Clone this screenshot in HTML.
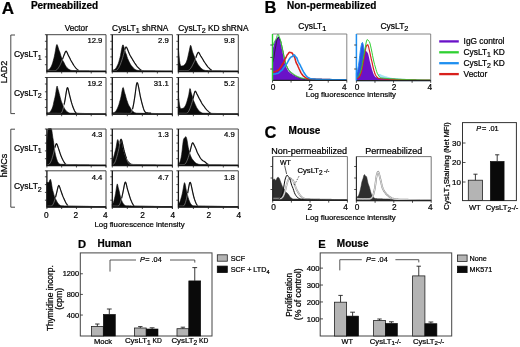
<!DOCTYPE html>
<html lang="en"><head><meta charset="utf-8"><title>CysLT receptor figure</title>
<style>html,body{margin:0;padding:0;background:#fff;overflow:hidden;width:520px;height:347px;}svg{display:block;filter:blur(0.4px);}text{font-family:'Liberation Sans', Arial, Helvetica, sans-serif;stroke:#000;stroke-width:0.22px;}</style>
</head><body>
<svg width="520" height="347" viewBox="0 0 520 347">
<rect x="0" y="0" width="520" height="347" fill="#fff"/>
<text x="1.7" y="13.5" font-size="17" font-weight="bold" text-anchor="start" fill="#000">A</text>
<text x="30.9" y="9.4" font-size="10" font-weight="bold" text-anchor="start" fill="#000">Permeabilized</text>
<text x="76.3" y="31" font-size="8.2" font-weight="normal" text-anchor="middle" fill="#000">Vector</text>
<text x="112.1" y="31" font-size="8.4" font-weight="normal" text-anchor="start" fill="#000">CysLT<tspan font-size="7" dy="2">1</tspan><tspan dy="-2"> shRNA</tspan></text>
<text x="178.2" y="31" font-size="8.4" font-weight="normal" text-anchor="start" fill="#000">CysLT<tspan font-size="7" dy="2">2</tspan><tspan dy="-2"> KD shRNA</tspan></text>
<path d="M15,35 H10.8 V113.6 H15" fill="none" stroke="#333" stroke-width="0.9"/>
<path d="M15,129.2 H10.8 V207.2 H15" fill="none" stroke="#333" stroke-width="0.9"/>
<text transform="translate(6.8 72) rotate(-90)" font-size="9" font-weight="normal" text-anchor="middle" fill="#000">LAD2</text>
<text transform="translate(7 165.4) rotate(-90)" font-size="9" font-weight="normal" text-anchor="middle" fill="#000">hMCs</text>
<text x="13.9" y="56.9" font-size="8.5" font-weight="normal" text-anchor="start" fill="#000">CysLT<tspan font-size="7" dy="2.6">1</tspan></text>
<text x="13.9" y="95.6" font-size="8.5" font-weight="normal" text-anchor="start" fill="#000">CysLT<tspan font-size="7" dy="2.1">2</tspan></text>
<text x="13.9" y="150.6" font-size="8.5" font-weight="normal" text-anchor="start" fill="#000">CysLT<tspan font-size="7" dy="2.6">1</tspan></text>
<text x="13.9" y="189.4" font-size="8.5" font-weight="normal" text-anchor="start" fill="#000">CysLT<tspan font-size="7" dy="2.1">2</tspan></text>
<path d="M46.9,70.56 L47.44,70.56 L47.97,70.57 L48.51,70.57 L49.05,70.58 L49.59,70.59 L50.12,70.59 L50.66,70.6 L51.2,70.61 L51.74,70.61 L52.27,70.62 L52.81,70.62 L53.35,70.62 L53.88,70.62 L54.42,70.63 L54.96,70.61 L55.5,70.53 L56.03,70.33 L56.57,69.99 L57.11,69.5 L57.65,68.89 L58.18,68.17 L58.72,67.37 L59.26,66.51 L59.79,65.57 L60.33,64.49 L60.87,63.27 L61.41,61.98 L61.94,60.66 L62.48,59.27 L63.02,57.83 L63.56,56.41 L64.09,55.04 L64.63,53.67 L65.17,52.34 L65.7,51.36 L66.24,51.2 L66.78,51.91 L67.32,53.04 L67.85,54.24 L68.39,55.39 L68.93,56.48 L69.47,57.52 L70,58.6 L70.54,59.71 L71.08,60.72 L71.61,61.63 L72.15,62.51 L72.69,63.43 L73.23,64.34 L73.76,65.2 L74.3,66.01 L74.84,66.75 L75.38,67.44 L75.91,68.08 L76.45,68.68 L76.99,69.2 L77.52,69.65 L78.06,70.02 L78.6,70.3 L79.14,70.46 L79.67,70.54 L80.21,70.58 L80.75,70.61 L81.29,70.64 L81.82,70.66 L82.36,70.68 L82.9,70.7 L83.43,70.72 L83.97,70.75 L84.51,70.77 L85.05,70.78 L85.58,70.8 L86.12,70.81 L86.66,70.83 L87.2,70.85 L87.73,70.86 L88.27,70.88 L88.81,70.89 L89.34,70.9 L89.88,70.92 L90.42,70.93 L90.96,70.94 L91.49,70.95 L92.03,70.96 L92.57,70.97 L93.11,70.98 L93.64,70.98 L94.18,70.99 L94.72,71 L95.25,71.01 L95.79,71.02 L96.33,71.02 L96.87,71.03 L97.4,71.04 L97.94,71.05 L98.48,71.06 L99.02,71.06 L99.55,71.07 L100.09,71.08 L100.63,71.08 L101.16,71.08 L101.7,71.08 L102.24,71.08 L102.78,71.09 L103.31,71.09 L103.85,71.09 L104.39,71.09 L104.93,71.09 L105.46,71.09 L106,71.09 L106,71.5 L46.9,71.5 Z" fill="#fff" stroke="none"/>
<path d="M46.9,69.98 L47.44,69.99 L47.97,69.95 L48.51,69.83 L49.05,69.55 L49.59,69.04 L50.12,68.35 L50.66,67.48 L51.2,66.47 L51.74,65.32 L52.27,63.98 L52.81,62.27 L53.35,60.29 L53.88,58.37 L54.42,56.11 L54.96,53.35 L55.5,50.29 L56.03,47.1 L56.57,44.87 L57.11,44.54 L57.65,45.8 L58.18,47.53 L58.72,49.3 L59.26,50.85 L59.79,51.96 L60.33,53.66 L60.87,55.79 L61.41,57.34 L61.94,58.58 L62.48,59.9 L63.02,61.06 L63.56,61.84 L64.09,62.77 L64.63,63.99 L65.17,65.08 L65.7,66.02 L66.24,66.78 L66.78,67.38 L67.32,67.91 L67.85,68.41 L68.39,68.93 L68.93,69.34 L69.47,69.61 L70,69.9 L70.54,70.15 L71.08,70.32 L71.61,70.43 L72.15,70.49 L72.69,70.5 L73.23,70.52 L73.76,70.54 L74.3,70.57 L74.84,70.59 L75.38,70.6 L75.91,70.59 L76.45,70.6 L76.99,70.61 L77.52,70.64 L78.06,70.65 L78.6,70.64 L79.14,70.64 L79.67,70.66 L80.21,70.67 L80.75,70.68 L81.29,70.7 L81.82,70.72 L82.36,70.74 L82.9,70.75 L83.43,70.77 L83.97,70.78 L84.51,70.79 L85.05,70.79 L85.58,70.79 L86.12,70.8 L86.66,70.81 L87.2,70.82 L87.73,70.83 L88.27,70.85 L88.81,70.87 L89.34,70.88 L89.88,70.9 L90.42,70.91 L90.96,70.91 L91.49,70.92 L92.03,70.93 L92.57,70.94 L93.11,70.95 L93.64,70.96 L94.18,70.98 L94.72,70.99 L95.25,71 L95.79,71.01 L96.33,71.02 L96.87,71.03 L97.4,71.04 L97.94,71.06 L98.48,71.07 L99.02,71.08 L99.55,71.09 L100.09,71.1 L100.63,71.1 L101.16,71.1 L101.7,71.1 L102.24,71.1 L102.78,71.1 L103.31,71.1 L103.85,71.1 L104.39,71.1 L104.93,71.1 L105.46,71.1 L106,71.1 L106,71.5 L46.9,71.5 Z" fill="#0a0a0a" stroke="#0a0a0a" stroke-width="0.6" stroke-linejoin="round"/>
<path d="M46.9,70.56 L47.44,70.56 L47.97,70.57 L48.51,70.57 L49.05,70.58 L49.59,70.59 L50.12,70.59 L50.66,70.6 L51.2,70.61 L51.74,70.61 L52.27,70.62 L52.81,70.62 L53.35,70.62 L53.88,70.62 L54.42,70.63 L54.96,70.61 L55.5,70.53 L56.03,70.33 L56.57,69.99 L57.11,69.5 L57.65,68.89 L58.18,68.17 L58.72,67.37 L59.26,66.51 L59.79,65.57 L60.33,64.49 L60.87,63.27 L61.41,61.98 L61.94,60.66 L62.48,59.27 L63.02,57.83 L63.56,56.41 L64.09,55.04 L64.63,53.67 L65.17,52.34 L65.7,51.36 L66.24,51.2 L66.78,51.91 L67.32,53.04 L67.85,54.24 L68.39,55.39 L68.93,56.48 L69.47,57.52 L70,58.6 L70.54,59.71 L71.08,60.72 L71.61,61.63 L72.15,62.51 L72.69,63.43 L73.23,64.34 L73.76,65.2 L74.3,66.01 L74.84,66.75 L75.38,67.44 L75.91,68.08 L76.45,68.68 L76.99,69.2 L77.52,69.65 L78.06,70.02 L78.6,70.3 L79.14,70.46 L79.67,70.54 L80.21,70.58 L80.75,70.61 L81.29,70.64 L81.82,70.66 L82.36,70.68 L82.9,70.7 L83.43,70.72 L83.97,70.75 L84.51,70.77 L85.05,70.78 L85.58,70.8 L86.12,70.81 L86.66,70.83 L87.2,70.85 L87.73,70.86 L88.27,70.88 L88.81,70.89 L89.34,70.9 L89.88,70.92 L90.42,70.93 L90.96,70.94 L91.49,70.95 L92.03,70.96 L92.57,70.97 L93.11,70.98 L93.64,70.98 L94.18,70.99 L94.72,71 L95.25,71.01 L95.79,71.02 L96.33,71.02 L96.87,71.03 L97.4,71.04 L97.94,71.05 L98.48,71.06 L99.02,71.06 L99.55,71.07 L100.09,71.08 L100.63,71.08 L101.16,71.08 L101.7,71.08 L102.24,71.08 L102.78,71.09 L103.31,71.09 L103.85,71.09 L104.39,71.09 L104.93,71.09 L105.46,71.09 L106,71.09" fill="none" stroke="#8a8a8a" stroke-width="0.7" stroke-linejoin="round"/>
<path d="M62.48,59.27 L63.02,57.83 L63.56,56.41 L64.09,55.04 L64.63,53.67 L65.17,52.34 L65.7,51.36 L66.24,51.2 L66.78,51.91 L67.32,53.04 L67.85,54.24 L68.39,55.39 L68.93,56.48 L69.47,57.52 L70,58.6 L70.54,59.71 L71.08,60.72 L71.61,61.63 L72.15,62.51 L72.69,63.43 L73.23,64.34 L73.76,65.2 L74.3,66.01 L74.84,66.75 L75.38,67.44 L75.91,68.08 L76.45,68.68 L76.99,69.2 L77.52,69.65 L78.06,70.02 L78.6,70.3" fill="none" stroke="#111" stroke-width="1.15" stroke-linejoin="round"/>
<path d="M44.9,34.7 H106 V73.5" fill="none" stroke="#444" stroke-width="1.0"/>
<path d="M46.9,34.7 V71.5 H106" fill="none" stroke="#111" stroke-width="1.3"/>
<line x1="46.9" y1="71.5" x2="46.9" y2="73.5" stroke="#222" stroke-width="0.8"/>
<line x1="61.67" y1="71.5" x2="61.67" y2="73.5" stroke="#222" stroke-width="0.8"/>
<line x1="76.45" y1="71.5" x2="76.45" y2="73.5" stroke="#222" stroke-width="0.8"/>
<line x1="91.22" y1="71.5" x2="91.22" y2="73.5" stroke="#222" stroke-width="0.8"/>
<line x1="106" y1="71.5" x2="106" y2="73.5" stroke="#222" stroke-width="0.8"/>
<line x1="44.9" y1="64.7" x2="46.9" y2="64.7" stroke="#222" stroke-width="0.8"/>
<line x1="44.9" y1="56.9" x2="46.9" y2="56.9" stroke="#222" stroke-width="0.8"/>
<line x1="44.9" y1="49.1" x2="46.9" y2="49.1" stroke="#222" stroke-width="0.8"/>
<line x1="44.9" y1="41.3" x2="46.9" y2="41.3" stroke="#222" stroke-width="0.8"/>
<text x="102.4" y="43.4" font-size="7.7" font-weight="normal" text-anchor="end" fill="#000">12.9</text>
<path d="M112.3,70.53 L112.85,70.54 L113.39,70.56 L113.94,70.57 L114.49,70.58 L115.03,70.58 L115.58,70.56 L116.12,70.48 L116.67,70.26 L117.22,69.85 L117.76,69.22 L118.31,68.42 L118.86,67.5 L119.4,66.47 L119.95,65.31 L120.5,64 L121.04,62.53 L121.59,60.98 L122.13,59.35 L122.68,57.6 L123.23,55.67 L123.77,53.64 L124.32,51.59 L124.87,49.55 L125.41,47.81 L125.96,46.93 L126.51,47.16 L127.05,48.16 L127.6,49.47 L128.14,50.85 L128.69,52.22 L129.24,53.52 L129.78,54.71 L130.33,55.78 L130.88,56.75 L131.42,57.66 L131.97,58.56 L132.52,59.46 L133.06,60.35 L133.61,61.26 L134.15,62.17 L134.7,63.02 L135.25,63.8 L135.79,64.59 L136.34,65.38 L136.89,66.12 L137.43,66.79 L137.98,67.39 L138.53,67.95 L139.07,68.48 L139.62,68.98 L140.16,69.43 L140.71,69.83 L141.26,70.18 L141.8,70.45 L142.35,70.62 L142.9,70.71 L143.44,70.74 L143.99,70.76 L144.54,70.77 L145.08,70.78 L145.63,70.79 L146.17,70.8 L146.72,70.81 L147.27,70.83 L147.81,70.84 L148.36,70.85 L148.91,70.86 L149.45,70.87 L150,70.88 L150.55,70.9 L151.09,70.91 L151.64,70.91 L152.18,70.92 L152.73,70.93 L153.28,70.93 L153.82,70.94 L154.37,70.95 L154.92,70.96 L155.46,70.96 L156.01,70.97 L156.56,70.98 L157.1,70.98 L157.65,70.99 L158.19,71 L158.74,71.01 L159.29,71.01 L159.83,71.02 L160.38,71.02 L160.93,71.03 L161.47,71.04 L162.02,71.05 L162.57,71.05 L163.11,71.06 L163.66,71.06 L164.2,71.07 L164.75,71.08 L165.3,71.08 L165.84,71.09 L166.39,71.09 L166.94,71.09 L167.48,71.1 L168.03,71.1 L168.58,71.1 L169.12,71.1 L169.67,71.1 L170.21,71.1 L170.76,71.1 L171.31,71.1 L171.85,71.1 L172.4,71.1 L172.4,71.5 L112.3,71.5 Z" fill="#fff" stroke="none"/>
<path d="M112.3,69.98 L112.85,70.01 L113.39,69.99 L113.94,69.81 L114.49,69.5 L115.03,69.11 L115.58,68.64 L116.12,67.9 L116.67,66.89 L117.22,65.79 L117.76,64.64 L118.31,63.45 L118.86,61.8 L119.4,59.67 L119.95,57.75 L120.5,55.45 L121.04,52.36 L121.59,49.34 L122.13,46.81 L122.68,44.98 L123.23,44.94 L123.77,46.61 L124.32,48.26 L124.87,50.12 L125.41,52.13 L125.96,53.42 L126.51,54.81 L127.05,56.76 L127.6,58.38 L128.14,59.52 L128.69,60.8 L129.24,62.06 L129.78,63.12 L130.33,64.07 L130.88,64.89 L131.42,65.64 L131.97,66.31 L132.52,66.94 L133.06,67.59 L133.61,68.19 L134.15,68.69 L134.7,69.13 L135.25,69.5 L135.79,69.8 L136.34,70.03 L136.89,70.2 L137.43,70.34 L137.98,70.46 L138.53,70.51 L139.07,70.53 L139.62,70.55 L140.16,70.56 L140.71,70.57 L141.26,70.58 L141.8,70.59 L142.35,70.61 L142.9,70.62 L143.44,70.62 L143.99,70.63 L144.54,70.65 L145.08,70.66 L145.63,70.66 L146.17,70.68 L146.72,70.7 L147.27,70.72 L147.81,70.74 L148.36,70.75 L148.91,70.75 L149.45,70.76 L150,70.77 L150.55,70.79 L151.09,70.8 L151.64,70.79 L152.18,70.8 L152.73,70.82 L153.28,70.84 L153.82,70.85 L154.37,70.86 L154.92,70.87 L155.46,70.88 L156.01,70.89 L156.56,70.9 L157.1,70.9 L157.65,70.91 L158.19,70.93 L158.74,70.94 L159.29,70.95 L159.83,70.97 L160.38,70.98 L160.93,70.99 L161.47,71 L162.02,71.01 L162.57,71.02 L163.11,71.03 L163.66,71.05 L164.2,71.06 L164.75,71.07 L165.3,71.08 L165.84,71.09 L166.39,71.1 L166.94,71.1 L167.48,71.1 L168.03,71.1 L168.58,71.1 L169.12,71.1 L169.67,71.1 L170.21,71.1 L170.76,71.1 L171.31,71.1 L171.85,71.1 L172.4,71.1 L172.4,71.5 L112.3,71.5 Z" fill="#0a0a0a" stroke="#0a0a0a" stroke-width="0.6" stroke-linejoin="round"/>
<path d="M112.3,70.53 L112.85,70.54 L113.39,70.56 L113.94,70.57 L114.49,70.58 L115.03,70.58 L115.58,70.56 L116.12,70.48 L116.67,70.26 L117.22,69.85 L117.76,69.22 L118.31,68.42 L118.86,67.5 L119.4,66.47 L119.95,65.31 L120.5,64 L121.04,62.53 L121.59,60.98 L122.13,59.35 L122.68,57.6 L123.23,55.67 L123.77,53.64 L124.32,51.59 L124.87,49.55 L125.41,47.81 L125.96,46.93 L126.51,47.16 L127.05,48.16 L127.6,49.47 L128.14,50.85 L128.69,52.22 L129.24,53.52 L129.78,54.71 L130.33,55.78 L130.88,56.75 L131.42,57.66 L131.97,58.56 L132.52,59.46 L133.06,60.35 L133.61,61.26 L134.15,62.17 L134.7,63.02 L135.25,63.8 L135.79,64.59 L136.34,65.38 L136.89,66.12 L137.43,66.79 L137.98,67.39 L138.53,67.95 L139.07,68.48 L139.62,68.98 L140.16,69.43 L140.71,69.83 L141.26,70.18 L141.8,70.45 L142.35,70.62 L142.9,70.71 L143.44,70.74 L143.99,70.76 L144.54,70.77 L145.08,70.78 L145.63,70.79 L146.17,70.8 L146.72,70.81 L147.27,70.83 L147.81,70.84 L148.36,70.85 L148.91,70.86 L149.45,70.87 L150,70.88 L150.55,70.9 L151.09,70.91 L151.64,70.91 L152.18,70.92 L152.73,70.93 L153.28,70.93 L153.82,70.94 L154.37,70.95 L154.92,70.96 L155.46,70.96 L156.01,70.97 L156.56,70.98 L157.1,70.98 L157.65,70.99 L158.19,71 L158.74,71.01 L159.29,71.01 L159.83,71.02 L160.38,71.02 L160.93,71.03 L161.47,71.04 L162.02,71.05 L162.57,71.05 L163.11,71.06 L163.66,71.06 L164.2,71.07 L164.75,71.08 L165.3,71.08 L165.84,71.09 L166.39,71.09 L166.94,71.09 L167.48,71.1 L168.03,71.1 L168.58,71.1 L169.12,71.1 L169.67,71.1 L170.21,71.1 L170.76,71.1 L171.31,71.1 L171.85,71.1 L172.4,71.1" fill="none" stroke="#8a8a8a" stroke-width="0.7" stroke-linejoin="round"/>
<path d="M124.87,49.55 L125.41,47.81 L125.96,46.93 L126.51,47.16 L127.05,48.16 L127.6,49.47 L128.14,50.85 L128.69,52.22 L129.24,53.52 L129.78,54.71 L130.33,55.78 L130.88,56.75 L131.42,57.66 L131.97,58.56 L132.52,59.46 L133.06,60.35 L133.61,61.26 L134.15,62.17 L134.7,63.02 L135.25,63.8 L135.79,64.59 L136.34,65.38 L136.89,66.12 L137.43,66.79 L137.98,67.39 L138.53,67.95 L139.07,68.48 L139.62,68.98 L140.16,69.43 L140.71,69.83 L141.26,70.18" fill="none" stroke="#111" stroke-width="1.15" stroke-linejoin="round"/>
<path d="M110.3,34.7 H172.4 V73.5" fill="none" stroke="#444" stroke-width="1.0"/>
<path d="M112.3,34.7 V71.5 H172.4" fill="none" stroke="#111" stroke-width="1.3"/>
<line x1="112.3" y1="71.5" x2="112.3" y2="73.5" stroke="#222" stroke-width="0.8"/>
<line x1="127.33" y1="71.5" x2="127.33" y2="73.5" stroke="#222" stroke-width="0.8"/>
<line x1="142.35" y1="71.5" x2="142.35" y2="73.5" stroke="#222" stroke-width="0.8"/>
<line x1="157.38" y1="71.5" x2="157.38" y2="73.5" stroke="#222" stroke-width="0.8"/>
<line x1="172.4" y1="71.5" x2="172.4" y2="73.5" stroke="#222" stroke-width="0.8"/>
<line x1="110.3" y1="64.7" x2="112.3" y2="64.7" stroke="#222" stroke-width="0.8"/>
<line x1="110.3" y1="56.9" x2="112.3" y2="56.9" stroke="#222" stroke-width="0.8"/>
<line x1="110.3" y1="49.1" x2="112.3" y2="49.1" stroke="#222" stroke-width="0.8"/>
<line x1="110.3" y1="41.3" x2="112.3" y2="41.3" stroke="#222" stroke-width="0.8"/>
<text x="168.8" y="43.4" font-size="7.7" font-weight="normal" text-anchor="end" fill="#000">2.9</text>
<path d="M178.4,70.54 L178.94,70.55 L179.49,70.56 L180.03,70.56 L180.58,70.57 L181.12,70.57 L181.67,70.57 L182.21,70.57 L182.76,70.58 L183.3,70.59 L183.85,70.6 L184.39,70.61 L184.93,70.61 L185.48,70.61 L186.02,70.61 L186.57,70.62 L187.11,70.61 L187.66,70.57 L188.2,70.45 L188.75,70.2 L189.29,69.82 L189.84,69.31 L190.38,68.69 L190.92,67.94 L191.47,67.08 L192.01,66.13 L192.56,65.11 L193.1,64.03 L193.65,62.91 L194.19,61.77 L194.74,60.6 L195.28,59.28 L195.83,57.79 L196.37,56.26 L196.91,54.81 L197.46,53.5 L198,52.6 L198.55,52.39 L199.09,52.9 L199.64,53.9 L200.18,55 L200.73,55.97 L201.27,56.83 L201.82,57.69 L202.36,58.54 L202.9,59.43 L203.45,60.42 L203.99,61.39 L204.54,62.25 L205.08,63.02 L205.63,63.78 L206.17,64.57 L206.72,65.38 L207.26,66.15 L207.81,66.83 L208.35,67.41 L208.89,67.95 L209.44,68.48 L209.98,68.99 L210.53,69.45 L211.07,69.86 L211.62,70.18 L212.16,70.42 L212.71,70.58 L213.25,70.67 L213.8,70.71 L214.34,70.73 L214.88,70.75 L215.43,70.77 L215.97,70.78 L216.52,70.8 L217.06,70.81 L217.61,70.82 L218.15,70.84 L218.7,70.86 L219.24,70.87 L219.79,70.88 L220.33,70.89 L220.87,70.9 L221.42,70.92 L221.96,70.93 L222.51,70.94 L223.05,70.95 L223.6,70.96 L224.14,70.97 L224.69,70.97 L225.23,70.98 L225.78,70.99 L226.32,71 L226.86,71.01 L227.41,71.02 L227.95,71.02 L228.5,71.03 L229.04,71.04 L229.59,71.05 L230.13,71.06 L230.68,71.06 L231.22,71.07 L231.77,71.08 L232.31,71.08 L232.85,71.08 L233.4,71.09 L233.94,71.09 L234.49,71.09 L235.03,71.09 L235.58,71.09 L236.12,71.09 L236.67,71.09 L237.21,71.09 L237.76,71.09 L238.3,71.09 L238.3,71.5 L178.4,71.5 Z" fill="#fff" stroke="none"/>
<path d="M178.4,49.7 L178.94,54.86 L179.49,60.26 L180.03,63.65 L180.58,65.51 L181.12,66.11 L181.67,65.96 L182.21,65.81 L182.76,65.88 L183.3,65.74 L183.85,65.36 L184.39,64.89 L184.93,64.27 L185.48,63.61 L186.02,62.65 L186.57,61.37 L187.11,59.97 L187.66,57.97 L188.2,55.43 L188.75,52.97 L189.29,50.62 L189.84,47.86 L190.38,45.46 L190.92,45.52 L191.47,47.57 L192.01,49.89 L192.56,51.94 L193.1,53.36 L193.65,54.69 L194.19,56.08 L194.74,57.56 L195.28,59.24 L195.83,60.45 L196.37,61.33 L196.91,62.46 L197.46,63.51 L198,64.39 L198.55,65.19 L199.09,65.8 L199.64,66.47 L200.18,67.23 L200.73,67.84 L201.27,68.36 L201.82,68.82 L202.36,69.22 L202.9,69.59 L203.45,69.88 L203.99,70.08 L204.54,70.24 L205.08,70.38 L205.63,70.49 L206.17,70.53 L206.72,70.55 L207.26,70.59 L207.81,70.61 L208.35,70.63 L208.89,70.64 L209.44,70.65 L209.98,70.66 L210.53,70.67 L211.07,70.67 L211.62,70.67 L212.16,70.67 L212.71,70.69 L213.25,70.71 L213.8,70.72 L214.34,70.73 L214.88,70.75 L215.43,70.76 L215.97,70.78 L216.52,70.78 L217.06,70.78 L217.61,70.8 L218.15,70.81 L218.7,70.82 L219.24,70.83 L219.79,70.85 L220.33,70.86 L220.87,70.87 L221.42,70.88 L221.96,70.89 L222.51,70.89 L223.05,70.9 L223.6,70.92 L224.14,70.94 L224.69,70.95 L225.23,70.95 L225.78,70.96 L226.32,70.98 L226.86,70.99 L227.41,71 L227.95,71.01 L228.5,71.02 L229.04,71.03 L229.59,71.04 L230.13,71.05 L230.68,71.07 L231.22,71.08 L231.77,71.09 L232.31,71.1 L232.85,71.1 L233.4,71.1 L233.94,71.1 L234.49,71.1 L235.03,71.1 L235.58,71.1 L236.12,71.1 L236.67,71.1 L237.21,71.1 L237.76,71.1 L238.3,71.1 L238.3,71.5 L178.4,71.5 Z" fill="#0a0a0a" stroke="#0a0a0a" stroke-width="0.6" stroke-linejoin="round"/>
<path d="M178.4,70.54 L178.94,70.55 L179.49,70.56 L180.03,70.56 L180.58,70.57 L181.12,70.57 L181.67,70.57 L182.21,70.57 L182.76,70.58 L183.3,70.59 L183.85,70.6 L184.39,70.61 L184.93,70.61 L185.48,70.61 L186.02,70.61 L186.57,70.62 L187.11,70.61 L187.66,70.57 L188.2,70.45 L188.75,70.2 L189.29,69.82 L189.84,69.31 L190.38,68.69 L190.92,67.94 L191.47,67.08 L192.01,66.13 L192.56,65.11 L193.1,64.03 L193.65,62.91 L194.19,61.77 L194.74,60.6 L195.28,59.28 L195.83,57.79 L196.37,56.26 L196.91,54.81 L197.46,53.5 L198,52.6 L198.55,52.39 L199.09,52.9 L199.64,53.9 L200.18,55 L200.73,55.97 L201.27,56.83 L201.82,57.69 L202.36,58.54 L202.9,59.43 L203.45,60.42 L203.99,61.39 L204.54,62.25 L205.08,63.02 L205.63,63.78 L206.17,64.57 L206.72,65.38 L207.26,66.15 L207.81,66.83 L208.35,67.41 L208.89,67.95 L209.44,68.48 L209.98,68.99 L210.53,69.45 L211.07,69.86 L211.62,70.18 L212.16,70.42 L212.71,70.58 L213.25,70.67 L213.8,70.71 L214.34,70.73 L214.88,70.75 L215.43,70.77 L215.97,70.78 L216.52,70.8 L217.06,70.81 L217.61,70.82 L218.15,70.84 L218.7,70.86 L219.24,70.87 L219.79,70.88 L220.33,70.89 L220.87,70.9 L221.42,70.92 L221.96,70.93 L222.51,70.94 L223.05,70.95 L223.6,70.96 L224.14,70.97 L224.69,70.97 L225.23,70.98 L225.78,70.99 L226.32,71 L226.86,71.01 L227.41,71.02 L227.95,71.02 L228.5,71.03 L229.04,71.04 L229.59,71.05 L230.13,71.06 L230.68,71.06 L231.22,71.07 L231.77,71.08 L232.31,71.08 L232.85,71.08 L233.4,71.09 L233.94,71.09 L234.49,71.09 L235.03,71.09 L235.58,71.09 L236.12,71.09 L236.67,71.09 L237.21,71.09 L237.76,71.09 L238.3,71.09" fill="none" stroke="#8a8a8a" stroke-width="0.7" stroke-linejoin="round"/>
<path d="M195.83,57.79 L196.37,56.26 L196.91,54.81 L197.46,53.5 L198,52.6 L198.55,52.39 L199.09,52.9 L199.64,53.9 L200.18,55 L200.73,55.97 L201.27,56.83 L201.82,57.69 L202.36,58.54 L202.9,59.43 L203.45,60.42 L203.99,61.39 L204.54,62.25 L205.08,63.02 L205.63,63.78 L206.17,64.57 L206.72,65.38 L207.26,66.15 L207.81,66.83 L208.35,67.41 L208.89,67.95 L209.44,68.48 L209.98,68.99 L210.53,69.45 L211.07,69.86 L211.62,70.18" fill="none" stroke="#111" stroke-width="1.15" stroke-linejoin="round"/>
<path d="M176.4,34.7 H238.3 V73.5" fill="none" stroke="#444" stroke-width="1.0"/>
<path d="M178.4,34.7 V71.5 H238.3" fill="none" stroke="#111" stroke-width="1.3"/>
<line x1="178.4" y1="71.5" x2="178.4" y2="73.5" stroke="#222" stroke-width="0.8"/>
<line x1="193.38" y1="71.5" x2="193.38" y2="73.5" stroke="#222" stroke-width="0.8"/>
<line x1="208.35" y1="71.5" x2="208.35" y2="73.5" stroke="#222" stroke-width="0.8"/>
<line x1="223.32" y1="71.5" x2="223.32" y2="73.5" stroke="#222" stroke-width="0.8"/>
<line x1="238.3" y1="71.5" x2="238.3" y2="73.5" stroke="#222" stroke-width="0.8"/>
<line x1="176.4" y1="64.7" x2="178.4" y2="64.7" stroke="#222" stroke-width="0.8"/>
<line x1="176.4" y1="56.9" x2="178.4" y2="56.9" stroke="#222" stroke-width="0.8"/>
<line x1="176.4" y1="49.1" x2="178.4" y2="49.1" stroke="#222" stroke-width="0.8"/>
<line x1="176.4" y1="41.3" x2="178.4" y2="41.3" stroke="#222" stroke-width="0.8"/>
<text x="234.7" y="43.4" font-size="7.7" font-weight="normal" text-anchor="end" fill="#000">9.8</text>
<path d="M46.9,113.25 L47.44,113.26 L47.97,113.27 L48.51,113.27 L49.05,113.27 L49.59,113.28 L50.12,113.29 L50.66,113.3 L51.2,113.3 L51.74,113.3 L52.27,113.31 L52.81,113.32 L53.35,113.32 L53.88,113.33 L54.42,113.33 L54.96,113.33 L55.5,113.33 L56.03,113.33 L56.57,113.34 L57.11,113.35 L57.65,113.36 L58.18,113.37 L58.72,113.37 L59.26,113.38 L59.79,113.38 L60.33,113.37 L60.87,113.25 L61.41,112.87 L61.94,112.07 L62.48,110.77 L63.02,109.03 L63.56,107 L64.09,104.73 L64.63,102.13 L65.17,99.11 L65.7,95.76 L66.24,92.31 L66.78,89.28 L67.32,87.61 L67.85,87.99 L68.39,89.93 L68.93,92.32 L69.47,94.58 L70,96.77 L70.54,98.95 L71.08,101.04 L71.61,102.94 L72.15,104.64 L72.69,106.21 L73.23,107.69 L73.76,109.09 L74.3,110.35 L74.84,111.41 L75.38,112.2 L75.91,112.72 L76.45,112.99 L76.99,113.11 L77.52,113.17 L78.06,113.22 L78.6,113.26 L79.14,113.3 L79.67,113.34 L80.21,113.37 L80.75,113.39 L81.29,113.41 L81.82,113.43 L82.36,113.45 L82.9,113.47 L83.43,113.49 L83.97,113.52 L84.51,113.53 L85.05,113.55 L85.58,113.56 L86.12,113.58 L86.66,113.59 L87.2,113.61 L87.73,113.62 L88.27,113.63 L88.81,113.64 L89.34,113.65 L89.88,113.66 L90.42,113.67 L90.96,113.68 L91.49,113.68 L92.03,113.69 L92.57,113.7 L93.11,113.71 L93.64,113.71 L94.18,113.72 L94.72,113.73 L95.25,113.74 L95.79,113.74 L96.33,113.75 L96.87,113.76 L97.4,113.76 L97.94,113.77 L98.48,113.78 L99.02,113.78 L99.55,113.79 L100.09,113.79 L100.63,113.79 L101.16,113.8 L101.7,113.8 L102.24,113.8 L102.78,113.8 L103.31,113.8 L103.85,113.8 L104.39,113.8 L104.93,113.8 L105.46,113.8 L106,113.8 L106,114.2 L46.9,114.2 Z" fill="#fff" stroke="none"/>
<path d="M46.9,112.7 L47.44,112.71 L47.97,112.72 L48.51,112.71 L49.05,112.63 L49.59,112.36 L50.12,111.85 L50.66,111.15 L51.2,110.26 L51.74,109.24 L52.27,108.11 L52.81,106.56 L53.35,104.41 L53.88,101.87 L54.42,99.47 L54.96,97.3 L55.5,94.62 L56.03,91.16 L56.57,87.48 L57.11,86.02 L57.65,87.7 L58.18,89.74 L58.72,91.54 L59.26,93.63 L59.79,95.71 L60.33,97.88 L60.87,99.91 L61.41,101.59 L61.94,102.89 L62.48,104.16 L63.02,105.63 L63.56,106.77 L64.09,107.64 L64.63,108.66 L65.17,109.62 L65.7,110.32 L66.24,110.88 L66.78,111.39 L67.32,111.81 L67.85,112.19 L68.39,112.54 L68.93,112.84 L69.47,113.04 L70,113.14 L70.54,113.18 L71.08,113.19 L71.61,113.21 L72.15,113.23 L72.69,113.24 L73.23,113.24 L73.76,113.24 L74.3,113.25 L74.84,113.26 L75.38,113.28 L75.91,113.3 L76.45,113.31 L76.99,113.32 L77.52,113.34 L78.06,113.34 L78.6,113.35 L79.14,113.37 L79.67,113.39 L80.21,113.4 L80.75,113.41 L81.29,113.41 L81.82,113.42 L82.36,113.44 L82.9,113.44 L83.43,113.45 L83.97,113.46 L84.51,113.48 L85.05,113.48 L85.58,113.49 L86.12,113.5 L86.66,113.52 L87.2,113.53 L87.73,113.54 L88.27,113.54 L88.81,113.56 L89.34,113.58 L89.88,113.6 L90.42,113.61 L90.96,113.61 L91.49,113.62 L92.03,113.63 L92.57,113.64 L93.11,113.65 L93.64,113.66 L94.18,113.68 L94.72,113.69 L95.25,113.7 L95.79,113.71 L96.33,113.72 L96.87,113.73 L97.4,113.74 L97.94,113.76 L98.48,113.77 L99.02,113.78 L99.55,113.79 L100.09,113.8 L100.63,113.8 L101.16,113.8 L101.7,113.8 L102.24,113.8 L102.78,113.8 L103.31,113.8 L103.85,113.8 L104.39,113.8 L104.93,113.8 L105.46,113.8 L106,113.8 L106,114.2 L46.9,114.2 Z" fill="#0a0a0a" stroke="#0a0a0a" stroke-width="0.6" stroke-linejoin="round"/>
<path d="M46.9,113.25 L47.44,113.26 L47.97,113.27 L48.51,113.27 L49.05,113.27 L49.59,113.28 L50.12,113.29 L50.66,113.3 L51.2,113.3 L51.74,113.3 L52.27,113.31 L52.81,113.32 L53.35,113.32 L53.88,113.33 L54.42,113.33 L54.96,113.33 L55.5,113.33 L56.03,113.33 L56.57,113.34 L57.11,113.35 L57.65,113.36 L58.18,113.37 L58.72,113.37 L59.26,113.38 L59.79,113.38 L60.33,113.37 L60.87,113.25 L61.41,112.87 L61.94,112.07 L62.48,110.77 L63.02,109.03 L63.56,107 L64.09,104.73 L64.63,102.13 L65.17,99.11 L65.7,95.76 L66.24,92.31 L66.78,89.28 L67.32,87.61 L67.85,87.99 L68.39,89.93 L68.93,92.32 L69.47,94.58 L70,96.77 L70.54,98.95 L71.08,101.04 L71.61,102.94 L72.15,104.64 L72.69,106.21 L73.23,107.69 L73.76,109.09 L74.3,110.35 L74.84,111.41 L75.38,112.2 L75.91,112.72 L76.45,112.99 L76.99,113.11 L77.52,113.17 L78.06,113.22 L78.6,113.26 L79.14,113.3 L79.67,113.34 L80.21,113.37 L80.75,113.39 L81.29,113.41 L81.82,113.43 L82.36,113.45 L82.9,113.47 L83.43,113.49 L83.97,113.52 L84.51,113.53 L85.05,113.55 L85.58,113.56 L86.12,113.58 L86.66,113.59 L87.2,113.61 L87.73,113.62 L88.27,113.63 L88.81,113.64 L89.34,113.65 L89.88,113.66 L90.42,113.67 L90.96,113.68 L91.49,113.68 L92.03,113.69 L92.57,113.7 L93.11,113.71 L93.64,113.71 L94.18,113.72 L94.72,113.73 L95.25,113.74 L95.79,113.74 L96.33,113.75 L96.87,113.76 L97.4,113.76 L97.94,113.77 L98.48,113.78 L99.02,113.78 L99.55,113.79 L100.09,113.79 L100.63,113.79 L101.16,113.8 L101.7,113.8 L102.24,113.8 L102.78,113.8 L103.31,113.8 L103.85,113.8 L104.39,113.8 L104.93,113.8 L105.46,113.8 L106,113.8" fill="none" stroke="#8a8a8a" stroke-width="0.7" stroke-linejoin="round"/>
<path d="M64.09,104.73 L64.63,102.13 L65.17,99.11 L65.7,95.76 L66.24,92.31 L66.78,89.28 L67.32,87.61 L67.85,87.99 L68.39,89.93 L68.93,92.32 L69.47,94.58 L70,96.77 L70.54,98.95 L71.08,101.04 L71.61,102.94 L72.15,104.64 L72.69,106.21 L73.23,107.69 L73.76,109.09 L74.3,110.35 L74.84,111.41 L75.38,112.2 L75.91,112.72 L76.45,112.99" fill="none" stroke="#111" stroke-width="1.15" stroke-linejoin="round"/>
<path d="M44.9,77.5 H106 V116.2" fill="none" stroke="#444" stroke-width="1.0"/>
<path d="M46.9,77.5 V114.2 H106" fill="none" stroke="#111" stroke-width="1.3"/>
<line x1="46.9" y1="114.2" x2="46.9" y2="116.2" stroke="#222" stroke-width="0.8"/>
<line x1="61.67" y1="114.2" x2="61.67" y2="116.2" stroke="#222" stroke-width="0.8"/>
<line x1="76.45" y1="114.2" x2="76.45" y2="116.2" stroke="#222" stroke-width="0.8"/>
<line x1="91.22" y1="114.2" x2="91.22" y2="116.2" stroke="#222" stroke-width="0.8"/>
<line x1="106" y1="114.2" x2="106" y2="116.2" stroke="#222" stroke-width="0.8"/>
<line x1="44.9" y1="107.4" x2="46.9" y2="107.4" stroke="#222" stroke-width="0.8"/>
<line x1="44.9" y1="99.6" x2="46.9" y2="99.6" stroke="#222" stroke-width="0.8"/>
<line x1="44.9" y1="91.8" x2="46.9" y2="91.8" stroke="#222" stroke-width="0.8"/>
<line x1="44.9" y1="84" x2="46.9" y2="84" stroke="#222" stroke-width="0.8"/>
<text x="102.4" y="86.2" font-size="7.7" font-weight="normal" text-anchor="end" fill="#000">19.2</text>
<path d="M112.3,113.27 L112.85,113.27 L113.39,113.27 L113.94,113.27 L114.49,113.28 L115.03,113.29 L115.58,113.29 L116.12,113.29 L116.67,113.3 L117.22,113.3 L117.76,113.31 L118.31,113.31 L118.86,113.31 L119.4,113.32 L119.95,113.33 L120.5,113.33 L121.04,113.33 L121.59,113.34 L122.13,113.35 L122.68,113.36 L123.23,113.37 L123.77,113.37 L124.32,113.38 L124.87,113.38 L125.41,113.38 L125.96,113.38 L126.51,113.39 L127.05,113.4 L127.6,113.41 L128.14,113.42 L128.69,113.42 L129.24,113.42 L129.78,113.42 L130.33,113.34 L130.88,113.04 L131.42,112.31 L131.97,111.02 L132.52,109.2 L133.06,106.87 L133.61,104.04 L134.15,100.8 L134.7,97.3 L135.25,93.49 L135.79,89.25 L136.34,85.21 L136.89,82.77 L137.43,82.73 L137.98,84.39 L138.53,86.76 L139.07,89.54 L139.62,92.61 L140.16,95.52 L140.71,98.05 L141.26,100.35 L141.8,102.56 L142.35,104.67 L142.9,106.64 L143.44,108.43 L143.99,109.96 L144.54,111.18 L145.08,112 L145.63,112.44 L146.17,112.64 L146.72,112.76 L147.27,112.85 L147.81,112.92 L148.36,112.98 L148.91,113.04 L149.45,113.1 L150,113.15 L150.55,113.19 L151.09,113.23 L151.64,113.28 L152.18,113.32 L152.73,113.35 L153.28,113.38 L153.82,113.41 L154.37,113.44 L154.92,113.47 L155.46,113.49 L156.01,113.51 L156.56,113.54 L157.1,113.56 L157.65,113.57 L158.19,113.59 L158.74,113.61 L159.29,113.62 L159.83,113.64 L160.38,113.65 L160.93,113.67 L161.47,113.68 L162.02,113.69 L162.57,113.7 L163.11,113.71 L163.66,113.72 L164.2,113.73 L164.75,113.74 L165.3,113.75 L165.84,113.76 L166.39,113.77 L166.94,113.77 L167.48,113.77 L168.03,113.78 L168.58,113.78 L169.12,113.78 L169.67,113.78 L170.21,113.78 L170.76,113.78 L171.31,113.79 L171.85,113.79 L172.4,113.79 L172.4,114.2 L112.3,114.2 Z" fill="#fff" stroke="none"/>
<path d="M112.3,112.7 L112.85,112.69 L113.39,112.67 L113.94,112.53 L114.49,112.27 L115.03,111.91 L115.58,111.44 L116.12,110.77 L116.67,109.87 L117.22,108.79 L117.76,107.46 L118.31,106.14 L118.86,104.71 L119.4,102.64 L119.95,100.66 L120.5,98.96 L121.04,96.39 L121.59,93.51 L122.13,90.6 L122.68,87.93 L123.23,87.44 L123.77,89.12 L124.32,91.6 L124.87,93.43 L125.41,95.05 L125.96,97.37 L126.51,99.29 L127.05,100.72 L127.6,102.32 L128.14,103.89 L128.69,105.14 L129.24,106.09 L129.78,106.9 L130.33,107.81 L130.88,108.8 L131.42,109.7 L131.97,110.43 L132.52,111.06 L133.06,111.58 L133.61,111.99 L134.15,112.36 L134.7,112.64 L135.25,112.87 L135.79,113.03 L136.34,113.13 L136.89,113.19 L137.43,113.2 L137.98,113.21 L138.53,113.23 L139.07,113.24 L139.62,113.25 L140.16,113.25 L140.71,113.27 L141.26,113.29 L141.8,113.29 L142.35,113.31 L142.9,113.33 L143.44,113.34 L143.99,113.35 L144.54,113.36 L145.08,113.37 L145.63,113.37 L146.17,113.37 L146.72,113.39 L147.27,113.41 L147.81,113.43 L148.36,113.45 L148.91,113.46 L149.45,113.47 L150,113.47 L150.55,113.48 L151.09,113.49 L151.64,113.5 L152.18,113.52 L152.73,113.53 L153.28,113.54 L153.82,113.55 L154.37,113.57 L154.92,113.57 L155.46,113.58 L156.01,113.59 L156.56,113.6 L157.1,113.61 L157.65,113.62 L158.19,113.64 L158.74,113.64 L159.29,113.66 L159.83,113.67 L160.38,113.68 L160.93,113.69 L161.47,113.7 L162.02,113.71 L162.57,113.72 L163.11,113.73 L163.66,113.74 L164.2,113.76 L164.75,113.77 L165.3,113.78 L165.84,113.79 L166.39,113.8 L166.94,113.8 L167.48,113.8 L168.03,113.8 L168.58,113.8 L169.12,113.8 L169.67,113.8 L170.21,113.8 L170.76,113.8 L171.31,113.8 L171.85,113.8 L172.4,113.8 L172.4,114.2 L112.3,114.2 Z" fill="#0a0a0a" stroke="#0a0a0a" stroke-width="0.6" stroke-linejoin="round"/>
<path d="M112.3,113.27 L112.85,113.27 L113.39,113.27 L113.94,113.27 L114.49,113.28 L115.03,113.29 L115.58,113.29 L116.12,113.29 L116.67,113.3 L117.22,113.3 L117.76,113.31 L118.31,113.31 L118.86,113.31 L119.4,113.32 L119.95,113.33 L120.5,113.33 L121.04,113.33 L121.59,113.34 L122.13,113.35 L122.68,113.36 L123.23,113.37 L123.77,113.37 L124.32,113.38 L124.87,113.38 L125.41,113.38 L125.96,113.38 L126.51,113.39 L127.05,113.4 L127.6,113.41 L128.14,113.42 L128.69,113.42 L129.24,113.42 L129.78,113.42 L130.33,113.34 L130.88,113.04 L131.42,112.31 L131.97,111.02 L132.52,109.2 L133.06,106.87 L133.61,104.04 L134.15,100.8 L134.7,97.3 L135.25,93.49 L135.79,89.25 L136.34,85.21 L136.89,82.77 L137.43,82.73 L137.98,84.39 L138.53,86.76 L139.07,89.54 L139.62,92.61 L140.16,95.52 L140.71,98.05 L141.26,100.35 L141.8,102.56 L142.35,104.67 L142.9,106.64 L143.44,108.43 L143.99,109.96 L144.54,111.18 L145.08,112 L145.63,112.44 L146.17,112.64 L146.72,112.76 L147.27,112.85 L147.81,112.92 L148.36,112.98 L148.91,113.04 L149.45,113.1 L150,113.15 L150.55,113.19 L151.09,113.23 L151.64,113.28 L152.18,113.32 L152.73,113.35 L153.28,113.38 L153.82,113.41 L154.37,113.44 L154.92,113.47 L155.46,113.49 L156.01,113.51 L156.56,113.54 L157.1,113.56 L157.65,113.57 L158.19,113.59 L158.74,113.61 L159.29,113.62 L159.83,113.64 L160.38,113.65 L160.93,113.67 L161.47,113.68 L162.02,113.69 L162.57,113.7 L163.11,113.71 L163.66,113.72 L164.2,113.73 L164.75,113.74 L165.3,113.75 L165.84,113.76 L166.39,113.77 L166.94,113.77 L167.48,113.77 L168.03,113.78 L168.58,113.78 L169.12,113.78 L169.67,113.78 L170.21,113.78 L170.76,113.78 L171.31,113.79 L171.85,113.79 L172.4,113.79" fill="none" stroke="#8a8a8a" stroke-width="0.7" stroke-linejoin="round"/>
<path d="M132.52,109.2 L133.06,106.87 L133.61,104.04 L134.15,100.8 L134.7,97.3 L135.25,93.49 L135.79,89.25 L136.34,85.21 L136.89,82.77 L137.43,82.73 L137.98,84.39 L138.53,86.76 L139.07,89.54 L139.62,92.61 L140.16,95.52 L140.71,98.05 L141.26,100.35 L141.8,102.56 L142.35,104.67 L142.9,106.64 L143.44,108.43 L143.99,109.96 L144.54,111.18 L145.08,112 L145.63,112.44 L146.17,112.64 L146.72,112.76 L147.27,112.85 L147.81,112.92 L148.36,112.98 L148.91,113.04 L149.45,113.1 L150,113.15 L150.55,113.19 L151.09,113.23" fill="none" stroke="#111" stroke-width="1.15" stroke-linejoin="round"/>
<path d="M110.3,77.5 H172.4 V116.2" fill="none" stroke="#444" stroke-width="1.0"/>
<path d="M112.3,77.5 V114.2 H172.4" fill="none" stroke="#111" stroke-width="1.3"/>
<line x1="112.3" y1="114.2" x2="112.3" y2="116.2" stroke="#222" stroke-width="0.8"/>
<line x1="127.33" y1="114.2" x2="127.33" y2="116.2" stroke="#222" stroke-width="0.8"/>
<line x1="142.35" y1="114.2" x2="142.35" y2="116.2" stroke="#222" stroke-width="0.8"/>
<line x1="157.38" y1="114.2" x2="157.38" y2="116.2" stroke="#222" stroke-width="0.8"/>
<line x1="172.4" y1="114.2" x2="172.4" y2="116.2" stroke="#222" stroke-width="0.8"/>
<line x1="110.3" y1="107.4" x2="112.3" y2="107.4" stroke="#222" stroke-width="0.8"/>
<line x1="110.3" y1="99.6" x2="112.3" y2="99.6" stroke="#222" stroke-width="0.8"/>
<line x1="110.3" y1="91.8" x2="112.3" y2="91.8" stroke="#222" stroke-width="0.8"/>
<line x1="110.3" y1="84" x2="112.3" y2="84" stroke="#222" stroke-width="0.8"/>
<text x="168.8" y="86.2" font-size="7.7" font-weight="normal" text-anchor="end" fill="#000">31.1</text>
<path d="M178.4,113.26 L178.94,113.26 L179.49,113.27 L180.03,113.27 L180.58,113.27 L181.12,113.28 L181.67,113.29 L182.21,113.29 L182.76,113.29 L183.3,113.29 L183.85,113.3 L184.39,113.31 L184.93,113.33 L185.48,113.33 L186.02,113.32 L186.57,113.26 L187.11,113.08 L187.66,112.68 L188.2,112.02 L188.75,111.11 L189.29,109.99 L189.84,108.72 L190.38,107.33 L190.92,105.85 L191.47,104.28 L192.01,102.56 L192.56,100.66 L193.1,98.51 L193.65,96.08 L194.19,93.66 L194.74,91.83 L195.28,91.15 L195.83,91.66 L196.37,92.8 L196.91,93.97 L197.46,95.02 L198,96.06 L198.55,97.17 L199.09,98.23 L199.64,99.18 L200.18,100.11 L200.73,101.13 L201.27,102.2 L201.82,103.23 L202.36,104.14 L202.9,104.89 L203.45,105.55 L203.99,106.25 L204.54,107.02 L205.08,107.8 L205.63,108.54 L206.17,109.22 L206.72,109.85 L207.26,110.41 L207.81,110.93 L208.35,111.44 L208.89,111.91 L209.44,112.33 L209.98,112.7 L210.53,113.01 L211.07,113.24 L211.62,113.37 L212.16,113.43 L212.71,113.46 L213.25,113.48 L213.8,113.5 L214.34,113.51 L214.88,113.53 L215.43,113.54 L215.97,113.55 L216.52,113.56 L217.06,113.58 L217.61,113.58 L218.15,113.59 L218.7,113.6 L219.24,113.62 L219.79,113.63 L220.33,113.63 L220.87,113.64 L221.42,113.65 L221.96,113.65 L222.51,113.66 L223.05,113.67 L223.6,113.68 L224.14,113.69 L224.69,113.69 L225.23,113.7 L225.78,113.71 L226.32,113.72 L226.86,113.72 L227.41,113.73 L227.95,113.74 L228.5,113.75 L229.04,113.75 L229.59,113.76 L230.13,113.77 L230.68,113.77 L231.22,113.78 L231.77,113.78 L232.31,113.79 L232.85,113.79 L233.4,113.79 L233.94,113.79 L234.49,113.79 L235.03,113.79 L235.58,113.79 L236.12,113.79 L236.67,113.79 L237.21,113.8 L237.76,113.8 L238.3,113.8 L238.3,114.2 L178.4,114.2 Z" fill="#fff" stroke="none"/>
<path d="M178.4,96.59 L178.94,100.77 L179.49,104.86 L180.03,107.22 L180.58,108.43 L181.12,108.69 L181.67,108.57 L182.21,108.48 L182.76,108.37 L183.3,108.14 L183.85,107.78 L184.39,107.27 L184.93,106.46 L185.48,105.54 L186.02,104.3 L186.57,102.75 L187.11,101.03 L187.66,98.96 L188.2,97.08 L188.75,94.94 L189.29,91.57 L189.84,88.52 L190.38,88.91 L190.92,91.74 L191.47,93.84 L192.01,95.31 L192.56,97.11 L193.1,99.11 L193.65,100.76 L194.19,102.05 L194.74,103.32 L195.28,104.59 L195.83,105.73 L196.37,106.93 L196.91,107.98 L197.46,108.73 L198,109.54 L198.55,110.31 L199.09,110.9 L199.64,111.43 L200.18,111.84 L200.73,112.2 L201.27,112.52 L201.82,112.79 L202.36,112.99 L202.9,113.12 L203.45,113.18 L203.99,113.21 L204.54,113.23 L205.08,113.25 L205.63,113.27 L206.17,113.29 L206.72,113.28 L207.26,113.28 L207.81,113.3 L208.35,113.31 L208.89,113.32 L209.44,113.34 L209.98,113.35 L210.53,113.35 L211.07,113.36 L211.62,113.37 L212.16,113.38 L212.71,113.4 L213.25,113.42 L213.8,113.43 L214.34,113.43 L214.88,113.43 L215.43,113.45 L215.97,113.47 L216.52,113.48 L217.06,113.48 L217.61,113.5 L218.15,113.52 L218.7,113.52 L219.24,113.53 L219.79,113.55 L220.33,113.56 L220.87,113.57 L221.42,113.57 L221.96,113.59 L222.51,113.6 L223.05,113.62 L223.6,113.63 L224.14,113.64 L224.69,113.65 L225.23,113.66 L225.78,113.67 L226.32,113.68 L226.86,113.69 L227.41,113.7 L227.95,113.71 L228.5,113.72 L229.04,113.73 L229.59,113.74 L230.13,113.75 L230.68,113.77 L231.22,113.78 L231.77,113.79 L232.31,113.8 L232.85,113.8 L233.4,113.8 L233.94,113.8 L234.49,113.8 L235.03,113.8 L235.58,113.8 L236.12,113.8 L236.67,113.8 L237.21,113.8 L237.76,113.8 L238.3,113.8 L238.3,114.2 L178.4,114.2 Z" fill="#0a0a0a" stroke="#0a0a0a" stroke-width="0.6" stroke-linejoin="round"/>
<path d="M178.4,113.26 L178.94,113.26 L179.49,113.27 L180.03,113.27 L180.58,113.27 L181.12,113.28 L181.67,113.29 L182.21,113.29 L182.76,113.29 L183.3,113.29 L183.85,113.3 L184.39,113.31 L184.93,113.33 L185.48,113.33 L186.02,113.32 L186.57,113.26 L187.11,113.08 L187.66,112.68 L188.2,112.02 L188.75,111.11 L189.29,109.99 L189.84,108.72 L190.38,107.33 L190.92,105.85 L191.47,104.28 L192.01,102.56 L192.56,100.66 L193.1,98.51 L193.65,96.08 L194.19,93.66 L194.74,91.83 L195.28,91.15 L195.83,91.66 L196.37,92.8 L196.91,93.97 L197.46,95.02 L198,96.06 L198.55,97.17 L199.09,98.23 L199.64,99.18 L200.18,100.11 L200.73,101.13 L201.27,102.2 L201.82,103.23 L202.36,104.14 L202.9,104.89 L203.45,105.55 L203.99,106.25 L204.54,107.02 L205.08,107.8 L205.63,108.54 L206.17,109.22 L206.72,109.85 L207.26,110.41 L207.81,110.93 L208.35,111.44 L208.89,111.91 L209.44,112.33 L209.98,112.7 L210.53,113.01 L211.07,113.24 L211.62,113.37 L212.16,113.43 L212.71,113.46 L213.25,113.48 L213.8,113.5 L214.34,113.51 L214.88,113.53 L215.43,113.54 L215.97,113.55 L216.52,113.56 L217.06,113.58 L217.61,113.58 L218.15,113.59 L218.7,113.6 L219.24,113.62 L219.79,113.63 L220.33,113.63 L220.87,113.64 L221.42,113.65 L221.96,113.65 L222.51,113.66 L223.05,113.67 L223.6,113.68 L224.14,113.69 L224.69,113.69 L225.23,113.7 L225.78,113.71 L226.32,113.72 L226.86,113.72 L227.41,113.73 L227.95,113.74 L228.5,113.75 L229.04,113.75 L229.59,113.76 L230.13,113.77 L230.68,113.77 L231.22,113.78 L231.77,113.78 L232.31,113.79 L232.85,113.79 L233.4,113.79 L233.94,113.79 L234.49,113.79 L235.03,113.79 L235.58,113.79 L236.12,113.79 L236.67,113.79 L237.21,113.8 L237.76,113.8 L238.3,113.8" fill="none" stroke="#8a8a8a" stroke-width="0.7" stroke-linejoin="round"/>
<path d="M193.1,98.51 L193.65,96.08 L194.19,93.66 L194.74,91.83 L195.28,91.15 L195.83,91.66 L196.37,92.8 L196.91,93.97 L197.46,95.02 L198,96.06 L198.55,97.17 L199.09,98.23 L199.64,99.18 L200.18,100.11 L200.73,101.13 L201.27,102.2 L201.82,103.23 L202.36,104.14 L202.9,104.89 L203.45,105.55 L203.99,106.25 L204.54,107.02 L205.08,107.8 L205.63,108.54 L206.17,109.22 L206.72,109.85 L207.26,110.41 L207.81,110.93 L208.35,111.44 L208.89,111.91 L209.44,112.33 L209.98,112.7 L210.53,113.01" fill="none" stroke="#111" stroke-width="1.15" stroke-linejoin="round"/>
<path d="M176.4,77.5 H238.3 V116.2" fill="none" stroke="#444" stroke-width="1.0"/>
<path d="M178.4,77.5 V114.2 H238.3" fill="none" stroke="#111" stroke-width="1.3"/>
<line x1="178.4" y1="114.2" x2="178.4" y2="116.2" stroke="#222" stroke-width="0.8"/>
<line x1="193.38" y1="114.2" x2="193.38" y2="116.2" stroke="#222" stroke-width="0.8"/>
<line x1="208.35" y1="114.2" x2="208.35" y2="116.2" stroke="#222" stroke-width="0.8"/>
<line x1="223.32" y1="114.2" x2="223.32" y2="116.2" stroke="#222" stroke-width="0.8"/>
<line x1="238.3" y1="114.2" x2="238.3" y2="116.2" stroke="#222" stroke-width="0.8"/>
<line x1="176.4" y1="107.4" x2="178.4" y2="107.4" stroke="#222" stroke-width="0.8"/>
<line x1="176.4" y1="99.6" x2="178.4" y2="99.6" stroke="#222" stroke-width="0.8"/>
<line x1="176.4" y1="91.8" x2="178.4" y2="91.8" stroke="#222" stroke-width="0.8"/>
<line x1="176.4" y1="84" x2="178.4" y2="84" stroke="#222" stroke-width="0.8"/>
<text x="234.7" y="86.2" font-size="7.7" font-weight="normal" text-anchor="end" fill="#000">5.2</text>
<path d="M46.9,164.57 L47.44,164.56 L47.97,164.55 L48.51,164.48 L49.05,164.27 L49.59,163.81 L50.12,163.08 L50.66,162.09 L51.2,160.9 L51.74,159.46 L52.27,157.79 L52.81,155.94 L53.35,153.98 L53.88,151.91 L54.42,149.72 L54.96,147.5 L55.5,145.47 L56.03,144.04 L56.57,143.69 L57.11,144.51 L57.65,146.02 L58.18,147.62 L58.72,149.14 L59.26,150.72 L59.79,152.38 L60.33,154 L60.87,155.46 L61.41,156.78 L61.94,158 L62.48,159.15 L63.02,160.23 L63.56,161.22 L64.09,162.14 L64.63,162.94 L65.17,163.58 L65.7,164.03 L66.24,164.29 L66.78,164.41 L67.32,164.47 L67.85,164.51 L68.39,164.53 L68.93,164.55 L69.47,164.57 L70,164.6 L70.54,164.63 L71.08,164.65 L71.61,164.66 L72.15,164.68 L72.69,164.69 L73.23,164.71 L73.76,164.72 L74.3,164.74 L74.84,164.75 L75.38,164.77 L75.91,164.78 L76.45,164.79 L76.99,164.8 L77.52,164.81 L78.06,164.82 L78.6,164.83 L79.14,164.85 L79.67,164.86 L80.21,164.87 L80.75,164.88 L81.29,164.88 L81.82,164.89 L82.36,164.9 L82.9,164.9 L83.43,164.91 L83.97,164.92 L84.51,164.92 L85.05,164.93 L85.58,164.93 L86.12,164.94 L86.66,164.95 L87.2,164.96 L87.73,164.96 L88.27,164.97 L88.81,164.98 L89.34,164.98 L89.88,164.99 L90.42,164.99 L90.96,165 L91.49,165.01 L92.03,165.01 L92.57,165.02 L93.11,165.02 L93.64,165.03 L94.18,165.03 L94.72,165.04 L95.25,165.05 L95.79,165.05 L96.33,165.06 L96.87,165.07 L97.4,165.07 L97.94,165.08 L98.48,165.08 L99.02,165.09 L99.55,165.09 L100.09,165.1 L100.63,165.1 L101.16,165.1 L101.7,165.1 L102.24,165.1 L102.78,165.1 L103.31,165.1 L103.85,165.1 L104.39,165.1 L104.93,165.1 L105.46,165.1 L106,165.1 L106,165.5 L46.9,165.5 Z" fill="#fff" stroke="none"/>
<path d="M46.9,141.55 L47.44,135.46 L47.97,130.12 L48.51,128.6 L49.05,128.6 L49.59,128.6 L50.12,128.6 L50.66,128.6 L51.2,128.6 L51.74,129.85 L52.27,133.5 L52.81,137.42 L53.35,140.53 L53.88,144.47 L54.42,148.75 L54.96,152.15 L55.5,154.8 L56.03,156.9 L56.57,158.68 L57.11,160.35 L57.65,161.68 L58.18,162.55 L58.72,163.23 L59.26,163.73 L59.79,164 L60.33,164.15 L60.87,164.25 L61.41,164.28 L61.94,164.29 L62.48,164.3 L63.02,164.32 L63.56,164.35 L64.09,164.36 L64.63,164.36 L65.17,164.37 L65.7,164.38 L66.24,164.39 L66.78,164.41 L67.32,164.44 L67.85,164.46 L68.39,164.47 L68.93,164.47 L69.47,164.49 L70,164.5 L70.54,164.51 L71.08,164.51 L71.61,164.51 L72.15,164.52 L72.69,164.53 L73.23,164.55 L73.76,164.56 L74.3,164.56 L74.84,164.58 L75.38,164.58 L75.91,164.59 L76.45,164.61 L76.99,164.62 L77.52,164.63 L78.06,164.65 L78.6,164.66 L79.14,164.67 L79.67,164.69 L80.21,164.69 L80.75,164.69 L81.29,164.7 L81.82,164.72 L82.36,164.73 L82.9,164.74 L83.43,164.75 L83.97,164.76 L84.51,164.78 L85.05,164.79 L85.58,164.8 L86.12,164.81 L86.66,164.82 L87.2,164.83 L87.73,164.85 L88.27,164.85 L88.81,164.87 L89.34,164.88 L89.88,164.89 L90.42,164.9 L90.96,164.91 L91.49,164.92 L92.03,164.93 L92.57,164.94 L93.11,164.96 L93.64,164.97 L94.18,164.98 L94.72,164.99 L95.25,165 L95.79,165.01 L96.33,165.02 L96.87,165.03 L97.4,165.05 L97.94,165.06 L98.48,165.07 L99.02,165.08 L99.55,165.09 L100.09,165.1 L100.63,165.1 L101.16,165.1 L101.7,165.1 L102.24,165.1 L102.78,165.1 L103.31,165.1 L103.85,165.1 L104.39,165.1 L104.93,165.1 L105.46,165.1 L106,165.1 L106,165.5 L46.9,165.5 Z" fill="#0a0a0a" stroke="#0a0a0a" stroke-width="0.6" stroke-linejoin="round"/>
<path d="M46.9,164.57 L47.44,164.56 L47.97,164.55 L48.51,164.48 L49.05,164.27 L49.59,163.81 L50.12,163.08 L50.66,162.09 L51.2,160.9 L51.74,159.46 L52.27,157.79 L52.81,155.94 L53.35,153.98 L53.88,151.91 L54.42,149.72 L54.96,147.5 L55.5,145.47 L56.03,144.04 L56.57,143.69 L57.11,144.51 L57.65,146.02 L58.18,147.62 L58.72,149.14 L59.26,150.72 L59.79,152.38 L60.33,154 L60.87,155.46 L61.41,156.78 L61.94,158 L62.48,159.15 L63.02,160.23 L63.56,161.22 L64.09,162.14 L64.63,162.94 L65.17,163.58 L65.7,164.03 L66.24,164.29 L66.78,164.41 L67.32,164.47 L67.85,164.51 L68.39,164.53 L68.93,164.55 L69.47,164.57 L70,164.6 L70.54,164.63 L71.08,164.65 L71.61,164.66 L72.15,164.68 L72.69,164.69 L73.23,164.71 L73.76,164.72 L74.3,164.74 L74.84,164.75 L75.38,164.77 L75.91,164.78 L76.45,164.79 L76.99,164.8 L77.52,164.81 L78.06,164.82 L78.6,164.83 L79.14,164.85 L79.67,164.86 L80.21,164.87 L80.75,164.88 L81.29,164.88 L81.82,164.89 L82.36,164.9 L82.9,164.9 L83.43,164.91 L83.97,164.92 L84.51,164.92 L85.05,164.93 L85.58,164.93 L86.12,164.94 L86.66,164.95 L87.2,164.96 L87.73,164.96 L88.27,164.97 L88.81,164.98 L89.34,164.98 L89.88,164.99 L90.42,164.99 L90.96,165 L91.49,165.01 L92.03,165.01 L92.57,165.02 L93.11,165.02 L93.64,165.03 L94.18,165.03 L94.72,165.04 L95.25,165.05 L95.79,165.05 L96.33,165.06 L96.87,165.07 L97.4,165.07 L97.94,165.08 L98.48,165.08 L99.02,165.09 L99.55,165.09 L100.09,165.1 L100.63,165.1 L101.16,165.1 L101.7,165.1 L102.24,165.1 L102.78,165.1 L103.31,165.1 L103.85,165.1 L104.39,165.1 L104.93,165.1 L105.46,165.1 L106,165.1" fill="none" stroke="#8a8a8a" stroke-width="0.7" stroke-linejoin="round"/>
<path d="M54.96,147.5 L55.5,145.47 L56.03,144.04 L56.57,143.69 L57.11,144.51 L57.65,146.02 L58.18,147.62 L58.72,149.14 L59.26,150.72 L59.79,152.38 L60.33,154 L60.87,155.46 L61.41,156.78 L61.94,158 L62.48,159.15 L63.02,160.23 L63.56,161.22 L64.09,162.14 L64.63,162.94 L65.17,163.58 L65.7,164.03" fill="none" stroke="#111" stroke-width="1.15" stroke-linejoin="round"/>
<path d="M44.9,129 H106 V167.5" fill="none" stroke="#444" stroke-width="1.0"/>
<path d="M46.9,129 V165.5 H106" fill="none" stroke="#111" stroke-width="1.3"/>
<line x1="46.9" y1="165.5" x2="46.9" y2="167.5" stroke="#222" stroke-width="0.8"/>
<line x1="61.67" y1="165.5" x2="61.67" y2="167.5" stroke="#222" stroke-width="0.8"/>
<line x1="76.45" y1="165.5" x2="76.45" y2="167.5" stroke="#222" stroke-width="0.8"/>
<line x1="91.22" y1="165.5" x2="91.22" y2="167.5" stroke="#222" stroke-width="0.8"/>
<line x1="106" y1="165.5" x2="106" y2="167.5" stroke="#222" stroke-width="0.8"/>
<line x1="44.9" y1="158.7" x2="46.9" y2="158.7" stroke="#222" stroke-width="0.8"/>
<line x1="44.9" y1="150.9" x2="46.9" y2="150.9" stroke="#222" stroke-width="0.8"/>
<line x1="44.9" y1="143.1" x2="46.9" y2="143.1" stroke="#222" stroke-width="0.8"/>
<line x1="44.9" y1="135.3" x2="46.9" y2="135.3" stroke="#222" stroke-width="0.8"/>
<text x="102.4" y="137.1" font-size="7.7" font-weight="normal" text-anchor="end" fill="#000">4.3</text>
<path d="M112.3,164.53 L112.85,164.49 L113.39,164.32 L113.94,163.88 L114.49,163.12 L115.03,162.05 L115.58,160.71 L116.12,159.13 L116.67,157.3 L117.22,155.31 L117.76,153.24 L118.31,151.09 L118.86,148.67 L119.4,145.79 L119.95,142.67 L120.5,140.14 L121.04,139.18 L121.59,139.97 L122.13,141.88 L122.68,144.26 L123.23,146.79 L123.77,149.23 L124.32,151.43 L124.87,153.39 L125.41,155.19 L125.96,156.85 L126.51,158.39 L127.05,159.83 L127.6,161.17 L128.14,162.34 L128.69,163.26 L129.24,163.91 L129.78,164.29 L130.33,164.45 L130.88,164.51 L131.42,164.55 L131.97,164.58 L132.52,164.6 L133.06,164.61 L133.61,164.62 L134.15,164.64 L134.7,164.66 L135.25,164.68 L135.79,164.7 L136.34,164.72 L136.89,164.73 L137.43,164.75 L137.98,164.76 L138.53,164.77 L139.07,164.77 L139.62,164.78 L140.16,164.79 L140.71,164.8 L141.26,164.81 L141.8,164.82 L142.35,164.83 L142.9,164.84 L143.44,164.84 L143.99,164.85 L144.54,164.86 L145.08,164.87 L145.63,164.87 L146.17,164.87 L146.72,164.88 L147.27,164.89 L147.81,164.9 L148.36,164.91 L148.91,164.91 L149.45,164.92 L150,164.92 L150.55,164.93 L151.09,164.94 L151.64,164.94 L152.18,164.95 L152.73,164.96 L153.28,164.96 L153.82,164.97 L154.37,164.97 L154.92,164.98 L155.46,164.99 L156.01,164.99 L156.56,165 L157.1,165 L157.65,165.01 L158.19,165.02 L158.74,165.02 L159.29,165.03 L159.83,165.03 L160.38,165.04 L160.93,165.04 L161.47,165.05 L162.02,165.05 L162.57,165.06 L163.11,165.07 L163.66,165.07 L164.2,165.08 L164.75,165.08 L165.3,165.09 L165.84,165.09 L166.39,165.1 L166.94,165.1 L167.48,165.1 L168.03,165.1 L168.58,165.1 L169.12,165.1 L169.67,165.1 L170.21,165.1 L170.76,165.1 L171.31,165.1 L171.85,165.1 L172.4,165.1 L172.4,165.5 L112.3,165.5 Z" fill="#fff" stroke="none"/>
<path d="M112.3,160.26 L112.85,159.34 L113.39,157.8 L113.94,155.92 L114.49,153.73 L115.03,151.6 L115.58,149.69 L116.12,147.33 L116.67,144.01 L117.22,140.71 L117.76,139.5 L118.31,140.81 L118.86,143.17 L119.4,144.65 L119.95,144.03 L120.5,142.15 L121.04,140.7 L121.59,141.59 L122.13,144.35 L122.68,146.89 L123.23,149.23 L123.77,151.45 L124.32,153.32 L124.87,155.17 L125.41,156.68 L125.96,157.66 L126.51,158.65 L127.05,159.71 L127.6,160.52 L128.14,161.26 L128.69,162.04 L129.24,162.62 L129.78,163.09 L130.33,163.53 L130.88,163.87 L131.42,164.11 L131.97,164.24 L132.52,164.34 L133.06,164.42 L133.61,164.45 L134.15,164.44 L134.7,164.45 L135.25,164.47 L135.79,164.48 L136.34,164.47 L136.89,164.48 L137.43,164.51 L137.98,164.52 L138.53,164.54 L139.07,164.56 L139.62,164.58 L140.16,164.58 L140.71,164.58 L141.26,164.59 L141.8,164.6 L142.35,164.61 L142.9,164.63 L143.44,164.65 L143.99,164.66 L144.54,164.65 L145.08,164.67 L145.63,164.69 L146.17,164.69 L146.72,164.7 L147.27,164.72 L147.81,164.73 L148.36,164.74 L148.91,164.75 L149.45,164.77 L150,164.78 L150.55,164.77 L151.09,164.78 L151.64,164.8 L152.18,164.81 L152.73,164.82 L153.28,164.83 L153.82,164.84 L154.37,164.85 L154.92,164.86 L155.46,164.87 L156.01,164.88 L156.56,164.9 L157.1,164.92 L157.65,164.93 L158.19,164.94 L158.74,164.95 L159.29,164.96 L159.83,164.97 L160.38,164.98 L160.93,164.99 L161.47,165 L162.02,165.01 L162.57,165.02 L163.11,165.03 L163.66,165.05 L164.2,165.06 L164.75,165.07 L165.3,165.08 L165.84,165.09 L166.39,165.1 L166.94,165.1 L167.48,165.1 L168.03,165.1 L168.58,165.1 L169.12,165.1 L169.67,165.1 L170.21,165.1 L170.76,165.1 L171.31,165.1 L171.85,165.1 L172.4,165.1 L172.4,165.5 L112.3,165.5 Z" fill="#0a0a0a" stroke="#0a0a0a" stroke-width="0.6" stroke-linejoin="round"/>
<path d="M112.3,164.53 L112.85,164.49 L113.39,164.32 L113.94,163.88 L114.49,163.12 L115.03,162.05 L115.58,160.71 L116.12,159.13 L116.67,157.3 L117.22,155.31 L117.76,153.24 L118.31,151.09 L118.86,148.67 L119.4,145.79 L119.95,142.67 L120.5,140.14 L121.04,139.18 L121.59,139.97 L122.13,141.88 L122.68,144.26 L123.23,146.79 L123.77,149.23 L124.32,151.43 L124.87,153.39 L125.41,155.19 L125.96,156.85 L126.51,158.39 L127.05,159.83 L127.6,161.17 L128.14,162.34 L128.69,163.26 L129.24,163.91 L129.78,164.29 L130.33,164.45 L130.88,164.51 L131.42,164.55 L131.97,164.58 L132.52,164.6 L133.06,164.61 L133.61,164.62 L134.15,164.64 L134.7,164.66 L135.25,164.68 L135.79,164.7 L136.34,164.72 L136.89,164.73 L137.43,164.75 L137.98,164.76 L138.53,164.77 L139.07,164.77 L139.62,164.78 L140.16,164.79 L140.71,164.8 L141.26,164.81 L141.8,164.82 L142.35,164.83 L142.9,164.84 L143.44,164.84 L143.99,164.85 L144.54,164.86 L145.08,164.87 L145.63,164.87 L146.17,164.87 L146.72,164.88 L147.27,164.89 L147.81,164.9 L148.36,164.91 L148.91,164.91 L149.45,164.92 L150,164.92 L150.55,164.93 L151.09,164.94 L151.64,164.94 L152.18,164.95 L152.73,164.96 L153.28,164.96 L153.82,164.97 L154.37,164.97 L154.92,164.98 L155.46,164.99 L156.01,164.99 L156.56,165 L157.1,165 L157.65,165.01 L158.19,165.02 L158.74,165.02 L159.29,165.03 L159.83,165.03 L160.38,165.04 L160.93,165.04 L161.47,165.05 L162.02,165.05 L162.57,165.06 L163.11,165.07 L163.66,165.07 L164.2,165.08 L164.75,165.08 L165.3,165.09 L165.84,165.09 L166.39,165.1 L166.94,165.1 L167.48,165.1 L168.03,165.1 L168.58,165.1 L169.12,165.1 L169.67,165.1 L170.21,165.1 L170.76,165.1 L171.31,165.1 L171.85,165.1 L172.4,165.1" fill="none" stroke="#8a8a8a" stroke-width="0.7" stroke-linejoin="round"/>
<path d="M119.95,142.67 L120.5,140.14 L121.04,139.18 L121.59,139.97 L122.13,141.88 L122.68,144.26 L123.23,146.79 L123.77,149.23 L124.32,151.43 L124.87,153.39 L125.41,155.19 L125.96,156.85 L126.51,158.39" fill="none" stroke="#111" stroke-width="1.15" stroke-linejoin="round"/>
<path d="M110.3,129 H172.4 V167.5" fill="none" stroke="#444" stroke-width="1.0"/>
<path d="M112.3,129 V165.5 H172.4" fill="none" stroke="#111" stroke-width="1.3"/>
<line x1="112.3" y1="165.5" x2="112.3" y2="167.5" stroke="#222" stroke-width="0.8"/>
<line x1="127.33" y1="165.5" x2="127.33" y2="167.5" stroke="#222" stroke-width="0.8"/>
<line x1="142.35" y1="165.5" x2="142.35" y2="167.5" stroke="#222" stroke-width="0.8"/>
<line x1="157.38" y1="165.5" x2="157.38" y2="167.5" stroke="#222" stroke-width="0.8"/>
<line x1="172.4" y1="165.5" x2="172.4" y2="167.5" stroke="#222" stroke-width="0.8"/>
<line x1="110.3" y1="158.7" x2="112.3" y2="158.7" stroke="#222" stroke-width="0.8"/>
<line x1="110.3" y1="150.9" x2="112.3" y2="150.9" stroke="#222" stroke-width="0.8"/>
<line x1="110.3" y1="143.1" x2="112.3" y2="143.1" stroke="#222" stroke-width="0.8"/>
<line x1="110.3" y1="135.3" x2="112.3" y2="135.3" stroke="#222" stroke-width="0.8"/>
<text x="168.8" y="137.1" font-size="7.7" font-weight="normal" text-anchor="end" fill="#000">1.3</text>
<path d="M178.4,164.53 L178.94,164.54 L179.49,164.55 L180.03,164.57 L180.58,164.57 L181.12,164.57 L181.67,164.58 L182.21,164.59 L182.76,164.6 L183.3,164.6 L183.85,164.56 L184.39,164.43 L184.93,164.1 L185.48,163.51 L186.02,162.68 L186.57,161.65 L187.11,160.46 L187.66,159.11 L188.2,157.58 L188.75,155.89 L189.29,154.08 L189.84,152.16 L190.38,150.1 L190.92,147.85 L191.47,145.59 L192.01,143.71 L192.56,142.8 L193.1,143.06 L193.65,144.02 L194.19,145.15 L194.74,146.27 L195.28,147.4 L195.83,148.63 L196.37,150.04 L196.91,151.5 L197.46,152.79 L198,153.85 L198.55,154.77 L199.09,155.73 L199.64,156.76 L200.18,157.73 L200.73,158.54 L201.27,159.19 L201.82,159.76 L202.36,160.26 L202.9,160.68 L203.45,160.98 L203.99,161.21 L204.54,161.51 L205.08,161.98 L205.63,162.54 L206.17,163.05 L206.72,163.46 L207.26,163.81 L207.81,164.1 L208.35,164.32 L208.89,164.48 L209.44,164.58 L209.98,164.64 L210.53,164.67 L211.07,164.68 L211.62,164.7 L212.16,164.72 L212.71,164.74 L213.25,164.75 L213.8,164.77 L214.34,164.79 L214.88,164.8 L215.43,164.82 L215.97,164.83 L216.52,164.85 L217.06,164.86 L217.61,164.87 L218.15,164.87 L218.7,164.88 L219.24,164.9 L219.79,164.91 L220.33,164.92 L220.87,164.93 L221.42,164.94 L221.96,164.95 L222.51,164.96 L223.05,164.96 L223.6,164.97 L224.14,164.98 L224.69,164.99 L225.23,165 L225.78,165.01 L226.32,165.01 L226.86,165.02 L227.41,165.03 L227.95,165.03 L228.5,165.04 L229.04,165.05 L229.59,165.06 L230.13,165.06 L230.68,165.07 L231.22,165.08 L231.77,165.08 L232.31,165.09 L232.85,165.09 L233.4,165.09 L233.94,165.09 L234.49,165.09 L235.03,165.09 L235.58,165.09 L236.12,165.09 L236.67,165.09 L237.21,165.09 L237.76,165.09 L238.3,165.09 L238.3,165.5 L178.4,165.5 Z" fill="#fff" stroke="none"/>
<path d="M178.4,163.96 L178.94,163.64 L179.49,162.92 L180.03,161.76 L180.58,160 L181.12,157.54 L181.67,154.33 L182.21,149.95 L182.76,144.68 L183.3,140.59 L183.85,138.74 L184.39,138.08 L184.93,137.64 L185.48,136.81 L186.02,136.76 L186.57,138.17 L187.11,140.54 L187.66,143.96 L188.2,147.21 L188.75,149.49 L189.29,151.62 L189.84,153.71 L190.38,155.26 L190.92,156.52 L191.47,157.76 L192.01,158.77 L192.56,159.46 L193.1,160.08 L193.65,160.81 L194.19,161.51 L194.74,162.08 L195.28,162.55 L195.83,162.99 L196.37,163.36 L196.91,163.63 L197.46,163.85 L198,164.08 L198.55,164.24 L199.09,164.35 L199.64,164.42 L200.18,164.45 L200.73,164.46 L201.27,164.48 L201.82,164.5 L202.36,164.52 L202.9,164.51 L203.45,164.52 L203.99,164.54 L204.54,164.55 L205.08,164.55 L205.63,164.57 L206.17,164.59 L206.72,164.58 L207.26,164.59 L207.81,164.6 L208.35,164.61 L208.89,164.63 L209.44,164.63 L209.98,164.64 L210.53,164.67 L211.07,164.68 L211.62,164.68 L212.16,164.69 L212.71,164.71 L213.25,164.73 L213.8,164.73 L214.34,164.74 L214.88,164.74 L215.43,164.75 L215.97,164.77 L216.52,164.78 L217.06,164.79 L217.61,164.8 L218.15,164.81 L218.7,164.81 L219.24,164.83 L219.79,164.85 L220.33,164.85 L220.87,164.87 L221.42,164.88 L221.96,164.88 L222.51,164.9 L223.05,164.91 L223.6,164.93 L224.14,164.94 L224.69,164.94 L225.23,164.95 L225.78,164.96 L226.32,164.97 L226.86,164.98 L227.41,165 L227.95,165.01 L228.5,165.02 L229.04,165.03 L229.59,165.04 L230.13,165.06 L230.68,165.07 L231.22,165.08 L231.77,165.09 L232.31,165.1 L232.85,165.1 L233.4,165.1 L233.94,165.1 L234.49,165.1 L235.03,165.1 L235.58,165.1 L236.12,165.1 L236.67,165.1 L237.21,165.1 L237.76,165.1 L238.3,165.1 L238.3,165.5 L178.4,165.5 Z" fill="#0a0a0a" stroke="#0a0a0a" stroke-width="0.6" stroke-linejoin="round"/>
<path d="M178.4,164.53 L178.94,164.54 L179.49,164.55 L180.03,164.57 L180.58,164.57 L181.12,164.57 L181.67,164.58 L182.21,164.59 L182.76,164.6 L183.3,164.6 L183.85,164.56 L184.39,164.43 L184.93,164.1 L185.48,163.51 L186.02,162.68 L186.57,161.65 L187.11,160.46 L187.66,159.11 L188.2,157.58 L188.75,155.89 L189.29,154.08 L189.84,152.16 L190.38,150.1 L190.92,147.85 L191.47,145.59 L192.01,143.71 L192.56,142.8 L193.1,143.06 L193.65,144.02 L194.19,145.15 L194.74,146.27 L195.28,147.4 L195.83,148.63 L196.37,150.04 L196.91,151.5 L197.46,152.79 L198,153.85 L198.55,154.77 L199.09,155.73 L199.64,156.76 L200.18,157.73 L200.73,158.54 L201.27,159.19 L201.82,159.76 L202.36,160.26 L202.9,160.68 L203.45,160.98 L203.99,161.21 L204.54,161.51 L205.08,161.98 L205.63,162.54 L206.17,163.05 L206.72,163.46 L207.26,163.81 L207.81,164.1 L208.35,164.32 L208.89,164.48 L209.44,164.58 L209.98,164.64 L210.53,164.67 L211.07,164.68 L211.62,164.7 L212.16,164.72 L212.71,164.74 L213.25,164.75 L213.8,164.77 L214.34,164.79 L214.88,164.8 L215.43,164.82 L215.97,164.83 L216.52,164.85 L217.06,164.86 L217.61,164.87 L218.15,164.87 L218.7,164.88 L219.24,164.9 L219.79,164.91 L220.33,164.92 L220.87,164.93 L221.42,164.94 L221.96,164.95 L222.51,164.96 L223.05,164.96 L223.6,164.97 L224.14,164.98 L224.69,164.99 L225.23,165 L225.78,165.01 L226.32,165.01 L226.86,165.02 L227.41,165.03 L227.95,165.03 L228.5,165.04 L229.04,165.05 L229.59,165.06 L230.13,165.06 L230.68,165.07 L231.22,165.08 L231.77,165.08 L232.31,165.09 L232.85,165.09 L233.4,165.09 L233.94,165.09 L234.49,165.09 L235.03,165.09 L235.58,165.09 L236.12,165.09 L236.67,165.09 L237.21,165.09 L237.76,165.09 L238.3,165.09" fill="none" stroke="#8a8a8a" stroke-width="0.7" stroke-linejoin="round"/>
<path d="M189.84,152.16 L190.38,150.1 L190.92,147.85 L191.47,145.59 L192.01,143.71 L192.56,142.8 L193.1,143.06 L193.65,144.02 L194.19,145.15 L194.74,146.27 L195.28,147.4 L195.83,148.63 L196.37,150.04 L196.91,151.5 L197.46,152.79 L198,153.85 L198.55,154.77 L199.09,155.73 L199.64,156.76 L200.18,157.73 L200.73,158.54 L201.27,159.19 L201.82,159.76 L202.36,160.26 L202.9,160.68 L203.45,160.98 L203.99,161.21 L204.54,161.51 L205.08,161.98 L205.63,162.54 L206.17,163.05 L206.72,163.46 L207.26,163.81 L207.81,164.1 L208.35,164.32" fill="none" stroke="#111" stroke-width="1.15" stroke-linejoin="round"/>
<path d="M176.4,129 H238.3 V167.5" fill="none" stroke="#444" stroke-width="1.0"/>
<path d="M178.4,129 V165.5 H238.3" fill="none" stroke="#111" stroke-width="1.3"/>
<line x1="178.4" y1="165.5" x2="178.4" y2="167.5" stroke="#222" stroke-width="0.8"/>
<line x1="193.38" y1="165.5" x2="193.38" y2="167.5" stroke="#222" stroke-width="0.8"/>
<line x1="208.35" y1="165.5" x2="208.35" y2="167.5" stroke="#222" stroke-width="0.8"/>
<line x1="223.32" y1="165.5" x2="223.32" y2="167.5" stroke="#222" stroke-width="0.8"/>
<line x1="238.3" y1="165.5" x2="238.3" y2="167.5" stroke="#222" stroke-width="0.8"/>
<line x1="176.4" y1="158.7" x2="178.4" y2="158.7" stroke="#222" stroke-width="0.8"/>
<line x1="176.4" y1="150.9" x2="178.4" y2="150.9" stroke="#222" stroke-width="0.8"/>
<line x1="176.4" y1="143.1" x2="178.4" y2="143.1" stroke="#222" stroke-width="0.8"/>
<line x1="176.4" y1="135.3" x2="178.4" y2="135.3" stroke="#222" stroke-width="0.8"/>
<text x="234.7" y="137.1" font-size="7.7" font-weight="normal" text-anchor="end" fill="#000">4.9</text>
<path d="M46.9,206.06 L47.44,206.06 L47.97,206.07 L48.51,206.08 L49.05,206.08 L49.59,206.08 L50.12,206.09 L50.66,206.08 L51.2,206.04 L51.74,205.87 L52.27,205.44 L52.81,204.71 L53.35,203.7 L53.88,202.45 L54.42,200.99 L54.96,199.32 L55.5,197.4 L56.03,195.26 L56.57,193.01 L57.11,190.76 L57.65,188.48 L58.18,186.46 L58.72,185.47 L59.26,185.95 L59.79,187.4 L60.33,189.07 L60.87,190.65 L61.41,192.19 L61.94,193.75 L62.48,195.27 L63.02,196.64 L63.56,197.86 L64.09,199.03 L64.63,200.21 L65.17,201.36 L65.7,202.42 L66.24,203.37 L66.78,204.2 L67.32,204.9 L67.85,205.44 L68.39,205.8 L68.93,205.99 L69.47,206.06 L70,206.1 L70.54,206.12 L71.08,206.14 L71.61,206.16 L72.15,206.18 L72.69,206.19 L73.23,206.21 L73.76,206.22 L74.3,206.24 L74.84,206.25 L75.38,206.26 L75.91,206.28 L76.45,206.29 L76.99,206.3 L77.52,206.31 L78.06,206.33 L78.6,206.34 L79.14,206.34 L79.67,206.35 L80.21,206.36 L80.75,206.37 L81.29,206.38 L81.82,206.39 L82.36,206.4 L82.9,206.4 L83.43,206.41 L83.97,206.41 L84.51,206.42 L85.05,206.43 L85.58,206.44 L86.12,206.44 L86.66,206.45 L87.2,206.45 L87.73,206.46 L88.27,206.47 L88.81,206.47 L89.34,206.48 L89.88,206.49 L90.42,206.49 L90.96,206.5 L91.49,206.5 L92.03,206.51 L92.57,206.52 L93.11,206.52 L93.64,206.53 L94.18,206.54 L94.72,206.54 L95.25,206.55 L95.79,206.55 L96.33,206.56 L96.87,206.56 L97.4,206.57 L97.94,206.58 L98.48,206.58 L99.02,206.59 L99.55,206.59 L100.09,206.6 L100.63,206.6 L101.16,206.6 L101.7,206.6 L102.24,206.6 L102.78,206.6 L103.31,206.6 L103.85,206.6 L104.39,206.6 L104.93,206.6 L105.46,206.6 L106,206.6 L106,207 L46.9,207 Z" fill="#fff" stroke="none"/>
<path d="M46.9,181.96 L47.44,182.54 L47.97,182.55 L48.51,182.57 L49.05,182.1 L49.59,180.57 L50.12,179.42 L50.66,179.62 L51.2,181.71 L51.74,185.07 L52.27,188.4 L52.81,190.64 L53.35,192.43 L53.88,194.65 L54.42,196.39 L54.96,197.52 L55.5,198.66 L56.03,199.76 L56.57,200.88 L57.11,201.9 L57.65,202.74 L58.18,203.52 L58.72,204.17 L59.26,204.67 L59.79,205.09 L60.33,205.4 L60.87,205.61 L61.41,205.73 L61.94,205.78 L62.48,205.81 L63.02,205.85 L63.56,205.87 L64.09,205.88 L64.63,205.88 L65.17,205.88 L65.7,205.89 L66.24,205.88 L66.78,205.89 L67.32,205.92 L67.85,205.94 L68.39,205.94 L68.93,205.95 L69.47,205.97 L70,205.98 L70.54,205.99 L71.08,206.02 L71.61,206.02 L72.15,206.01 L72.69,206.02 L73.23,206.05 L73.76,206.07 L74.3,206.06 L74.84,206.07 L75.38,206.08 L75.91,206.08 L76.45,206.1 L76.99,206.13 L77.52,206.15 L78.06,206.16 L78.6,206.16 L79.14,206.18 L79.67,206.19 L80.21,206.2 L80.75,206.2 L81.29,206.21 L81.82,206.22 L82.36,206.23 L82.9,206.25 L83.43,206.27 L83.97,206.27 L84.51,206.28 L85.05,206.29 L85.58,206.31 L86.12,206.32 L86.66,206.33 L87.2,206.33 L87.73,206.34 L88.27,206.36 L88.81,206.37 L89.34,206.38 L89.88,206.39 L90.42,206.4 L90.96,206.41 L91.49,206.42 L92.03,206.43 L92.57,206.44 L93.11,206.46 L93.64,206.47 L94.18,206.48 L94.72,206.49 L95.25,206.5 L95.79,206.52 L96.33,206.53 L96.87,206.53 L97.4,206.54 L97.94,206.55 L98.48,206.57 L99.02,206.58 L99.55,206.59 L100.09,206.6 L100.63,206.6 L101.16,206.6 L101.7,206.6 L102.24,206.6 L102.78,206.6 L103.31,206.6 L103.85,206.6 L104.39,206.6 L104.93,206.6 L105.46,206.6 L106,206.6 L106,207 L46.9,207 Z" fill="#0a0a0a" stroke="#0a0a0a" stroke-width="0.6" stroke-linejoin="round"/>
<path d="M46.9,206.06 L47.44,206.06 L47.97,206.07 L48.51,206.08 L49.05,206.08 L49.59,206.08 L50.12,206.09 L50.66,206.08 L51.2,206.04 L51.74,205.87 L52.27,205.44 L52.81,204.71 L53.35,203.7 L53.88,202.45 L54.42,200.99 L54.96,199.32 L55.5,197.4 L56.03,195.26 L56.57,193.01 L57.11,190.76 L57.65,188.48 L58.18,186.46 L58.72,185.47 L59.26,185.95 L59.79,187.4 L60.33,189.07 L60.87,190.65 L61.41,192.19 L61.94,193.75 L62.48,195.27 L63.02,196.64 L63.56,197.86 L64.09,199.03 L64.63,200.21 L65.17,201.36 L65.7,202.42 L66.24,203.37 L66.78,204.2 L67.32,204.9 L67.85,205.44 L68.39,205.8 L68.93,205.99 L69.47,206.06 L70,206.1 L70.54,206.12 L71.08,206.14 L71.61,206.16 L72.15,206.18 L72.69,206.19 L73.23,206.21 L73.76,206.22 L74.3,206.24 L74.84,206.25 L75.38,206.26 L75.91,206.28 L76.45,206.29 L76.99,206.3 L77.52,206.31 L78.06,206.33 L78.6,206.34 L79.14,206.34 L79.67,206.35 L80.21,206.36 L80.75,206.37 L81.29,206.38 L81.82,206.39 L82.36,206.4 L82.9,206.4 L83.43,206.41 L83.97,206.41 L84.51,206.42 L85.05,206.43 L85.58,206.44 L86.12,206.44 L86.66,206.45 L87.2,206.45 L87.73,206.46 L88.27,206.47 L88.81,206.47 L89.34,206.48 L89.88,206.49 L90.42,206.49 L90.96,206.5 L91.49,206.5 L92.03,206.51 L92.57,206.52 L93.11,206.52 L93.64,206.53 L94.18,206.54 L94.72,206.54 L95.25,206.55 L95.79,206.55 L96.33,206.56 L96.87,206.56 L97.4,206.57 L97.94,206.58 L98.48,206.58 L99.02,206.59 L99.55,206.59 L100.09,206.6 L100.63,206.6 L101.16,206.6 L101.7,206.6 L102.24,206.6 L102.78,206.6 L103.31,206.6 L103.85,206.6 L104.39,206.6 L104.93,206.6 L105.46,206.6 L106,206.6" fill="none" stroke="#8a8a8a" stroke-width="0.7" stroke-linejoin="round"/>
<path d="M55.5,197.4 L56.03,195.26 L56.57,193.01 L57.11,190.76 L57.65,188.48 L58.18,186.46 L58.72,185.47 L59.26,185.95 L59.79,187.4 L60.33,189.07 L60.87,190.65 L61.41,192.19 L61.94,193.75 L62.48,195.27 L63.02,196.64 L63.56,197.86 L64.09,199.03 L64.63,200.21 L65.17,201.36 L65.7,202.42 L66.24,203.37 L66.78,204.2 L67.32,204.9 L67.85,205.44" fill="none" stroke="#111" stroke-width="1.15" stroke-linejoin="round"/>
<path d="M44.9,170.8 H106 V209" fill="none" stroke="#444" stroke-width="1.0"/>
<path d="M46.9,170.8 V207 H106" fill="none" stroke="#111" stroke-width="1.3"/>
<line x1="46.9" y1="207" x2="46.9" y2="209" stroke="#222" stroke-width="0.8"/>
<line x1="61.67" y1="207" x2="61.67" y2="209" stroke="#222" stroke-width="0.8"/>
<line x1="76.45" y1="207" x2="76.45" y2="209" stroke="#222" stroke-width="0.8"/>
<line x1="91.22" y1="207" x2="91.22" y2="209" stroke="#222" stroke-width="0.8"/>
<line x1="106" y1="207" x2="106" y2="209" stroke="#222" stroke-width="0.8"/>
<line x1="44.9" y1="200.2" x2="46.9" y2="200.2" stroke="#222" stroke-width="0.8"/>
<line x1="44.9" y1="192.4" x2="46.9" y2="192.4" stroke="#222" stroke-width="0.8"/>
<line x1="44.9" y1="184.6" x2="46.9" y2="184.6" stroke="#222" stroke-width="0.8"/>
<line x1="44.9" y1="176.8" x2="46.9" y2="176.8" stroke="#222" stroke-width="0.8"/>
<text x="102.4" y="179.5" font-size="7.7" font-weight="normal" text-anchor="end" fill="#000">4.4</text>
<path d="M112.3,206.07 L112.85,206.06 L113.39,206.06 L113.94,206.06 L114.49,206.07 L115.03,206.09 L115.58,206.1 L116.12,206.1 L116.67,206.1 L117.22,206.1 L117.76,206.07 L118.31,205.95 L118.86,205.58 L119.4,204.84 L119.95,203.68 L120.5,202.17 L121.04,200.37 L121.59,198.37 L122.13,196.14 L122.68,193.66 L123.23,190.98 L123.77,188.09 L124.32,185.15 L124.87,182.8 L125.41,182 L125.96,183.01 L126.51,185.14 L127.05,187.48 L127.6,189.57 L128.14,191.43 L128.69,193.22 L129.24,195.03 L129.78,196.82 L130.33,198.47 L130.88,199.95 L131.42,201.3 L131.97,202.54 L132.52,203.64 L133.06,204.54 L133.61,205.23 L134.15,205.67 L134.7,205.9 L135.25,205.99 L135.79,206.03 L136.34,206.06 L136.89,206.08 L137.43,206.11 L137.98,206.13 L138.53,206.15 L139.07,206.17 L139.62,206.19 L140.16,206.21 L140.71,206.22 L141.26,206.24 L141.8,206.25 L142.35,206.26 L142.9,206.28 L143.44,206.29 L143.99,206.31 L144.54,206.32 L145.08,206.32 L145.63,206.33 L146.17,206.34 L146.72,206.36 L147.27,206.37 L147.81,206.38 L148.36,206.39 L148.91,206.4 L149.45,206.4 L150,206.41 L150.55,206.42 L151.09,206.42 L151.64,206.43 L152.18,206.44 L152.73,206.45 L153.28,206.45 L153.82,206.46 L154.37,206.47 L154.92,206.47 L155.46,206.48 L156.01,206.49 L156.56,206.49 L157.1,206.5 L157.65,206.5 L158.19,206.51 L158.74,206.52 L159.29,206.52 L159.83,206.53 L160.38,206.54 L160.93,206.54 L161.47,206.55 L162.02,206.55 L162.57,206.56 L163.11,206.56 L163.66,206.57 L164.2,206.58 L164.75,206.58 L165.3,206.59 L165.84,206.59 L166.39,206.6 L166.94,206.6 L167.48,206.6 L168.03,206.6 L168.58,206.6 L169.12,206.6 L169.67,206.6 L170.21,206.6 L170.76,206.6 L171.31,206.6 L171.85,206.6 L172.4,206.6 L172.4,207 L112.3,207 Z" fill="#fff" stroke="none"/>
<path d="M112.3,204.39 L112.85,203.68 L113.39,202.5 L113.94,200.86 L114.49,198.71 L115.03,196.31 L115.58,193.44 L116.12,189.96 L116.67,186.19 L117.22,183.9 L117.76,185.26 L118.31,187.91 L118.86,189.85 L119.4,192.09 L119.95,194.65 L120.5,197.04 L121.04,198.92 L121.59,200.33 L122.13,201.56 L122.68,202.63 L123.23,203.55 L123.77,204.33 L124.32,204.89 L124.87,205.28 L125.41,205.57 L125.96,205.71 L126.51,205.77 L127.05,205.8 L127.6,205.83 L128.14,205.84 L128.69,205.84 L129.24,205.87 L129.78,205.88 L130.33,205.87 L130.88,205.87 L131.42,205.91 L131.97,205.93 L132.52,205.91 L133.06,205.93 L133.61,205.96 L134.15,205.98 L134.7,205.98 L135.25,205.98 L135.79,205.98 L136.34,205.98 L136.89,206 L137.43,206.03 L137.98,206.03 L138.53,206.04 L139.07,206.04 L139.62,206.05 L140.16,206.08 L140.71,206.09 L141.26,206.09 L141.8,206.1 L142.35,206.1 L142.9,206.11 L143.44,206.13 L143.99,206.14 L144.54,206.15 L145.08,206.18 L145.63,206.19 L146.17,206.2 L146.72,206.2 L147.27,206.21 L147.81,206.22 L148.36,206.24 L148.91,206.25 L149.45,206.26 L150,206.27 L150.55,206.28 L151.09,206.29 L151.64,206.3 L152.18,206.31 L152.73,206.32 L153.28,206.34 L153.82,206.35 L154.37,206.37 L154.92,206.38 L155.46,206.38 L156.01,206.4 L156.56,206.41 L157.1,206.42 L157.65,206.42 L158.19,206.43 L158.74,206.45 L159.29,206.46 L159.83,206.47 L160.38,206.48 L160.93,206.49 L161.47,206.5 L162.02,206.51 L162.57,206.52 L163.11,206.53 L163.66,206.55 L164.2,206.56 L164.75,206.57 L165.3,206.58 L165.84,206.59 L166.39,206.6 L166.94,206.6 L167.48,206.6 L168.03,206.6 L168.58,206.6 L169.12,206.6 L169.67,206.6 L170.21,206.6 L170.76,206.6 L171.31,206.6 L171.85,206.6 L172.4,206.6 L172.4,207 L112.3,207 Z" fill="#0a0a0a" stroke="#0a0a0a" stroke-width="0.6" stroke-linejoin="round"/>
<path d="M112.3,206.07 L112.85,206.06 L113.39,206.06 L113.94,206.06 L114.49,206.07 L115.03,206.09 L115.58,206.1 L116.12,206.1 L116.67,206.1 L117.22,206.1 L117.76,206.07 L118.31,205.95 L118.86,205.58 L119.4,204.84 L119.95,203.68 L120.5,202.17 L121.04,200.37 L121.59,198.37 L122.13,196.14 L122.68,193.66 L123.23,190.98 L123.77,188.09 L124.32,185.15 L124.87,182.8 L125.41,182 L125.96,183.01 L126.51,185.14 L127.05,187.48 L127.6,189.57 L128.14,191.43 L128.69,193.22 L129.24,195.03 L129.78,196.82 L130.33,198.47 L130.88,199.95 L131.42,201.3 L131.97,202.54 L132.52,203.64 L133.06,204.54 L133.61,205.23 L134.15,205.67 L134.7,205.9 L135.25,205.99 L135.79,206.03 L136.34,206.06 L136.89,206.08 L137.43,206.11 L137.98,206.13 L138.53,206.15 L139.07,206.17 L139.62,206.19 L140.16,206.21 L140.71,206.22 L141.26,206.24 L141.8,206.25 L142.35,206.26 L142.9,206.28 L143.44,206.29 L143.99,206.31 L144.54,206.32 L145.08,206.32 L145.63,206.33 L146.17,206.34 L146.72,206.36 L147.27,206.37 L147.81,206.38 L148.36,206.39 L148.91,206.4 L149.45,206.4 L150,206.41 L150.55,206.42 L151.09,206.42 L151.64,206.43 L152.18,206.44 L152.73,206.45 L153.28,206.45 L153.82,206.46 L154.37,206.47 L154.92,206.47 L155.46,206.48 L156.01,206.49 L156.56,206.49 L157.1,206.5 L157.65,206.5 L158.19,206.51 L158.74,206.52 L159.29,206.52 L159.83,206.53 L160.38,206.54 L160.93,206.54 L161.47,206.55 L162.02,206.55 L162.57,206.56 L163.11,206.56 L163.66,206.57 L164.2,206.58 L164.75,206.58 L165.3,206.59 L165.84,206.59 L166.39,206.6 L166.94,206.6 L167.48,206.6 L168.03,206.6 L168.58,206.6 L169.12,206.6 L169.67,206.6 L170.21,206.6 L170.76,206.6 L171.31,206.6 L171.85,206.6 L172.4,206.6" fill="none" stroke="#8a8a8a" stroke-width="0.7" stroke-linejoin="round"/>
<path d="M121.59,198.37 L122.13,196.14 L122.68,193.66 L123.23,190.98 L123.77,188.09 L124.32,185.15 L124.87,182.8 L125.41,182 L125.96,183.01 L126.51,185.14 L127.05,187.48 L127.6,189.57 L128.14,191.43 L128.69,193.22 L129.24,195.03 L129.78,196.82 L130.33,198.47 L130.88,199.95 L131.42,201.3 L131.97,202.54 L132.52,203.64 L133.06,204.54 L133.61,205.23 L134.15,205.67" fill="none" stroke="#111" stroke-width="1.15" stroke-linejoin="round"/>
<path d="M110.3,170.8 H172.4 V209" fill="none" stroke="#444" stroke-width="1.0"/>
<path d="M112.3,170.8 V207 H172.4" fill="none" stroke="#111" stroke-width="1.3"/>
<line x1="112.3" y1="207" x2="112.3" y2="209" stroke="#222" stroke-width="0.8"/>
<line x1="127.33" y1="207" x2="127.33" y2="209" stroke="#222" stroke-width="0.8"/>
<line x1="142.35" y1="207" x2="142.35" y2="209" stroke="#222" stroke-width="0.8"/>
<line x1="157.38" y1="207" x2="157.38" y2="209" stroke="#222" stroke-width="0.8"/>
<line x1="172.4" y1="207" x2="172.4" y2="209" stroke="#222" stroke-width="0.8"/>
<line x1="110.3" y1="200.2" x2="112.3" y2="200.2" stroke="#222" stroke-width="0.8"/>
<line x1="110.3" y1="192.4" x2="112.3" y2="192.4" stroke="#222" stroke-width="0.8"/>
<line x1="110.3" y1="184.6" x2="112.3" y2="184.6" stroke="#222" stroke-width="0.8"/>
<line x1="110.3" y1="176.8" x2="112.3" y2="176.8" stroke="#222" stroke-width="0.8"/>
<text x="168.8" y="179.5" font-size="7.7" font-weight="normal" text-anchor="end" fill="#000">4.7</text>
<path d="M178.4,206.07 L178.94,206.07 L179.49,206.07 L180.03,206.08 L180.58,206.09 L181.12,206.09 L181.67,206.1 L182.21,206.11 L182.76,206.1 L183.3,206.02 L183.85,205.72 L184.39,205.06 L184.93,203.92 L185.48,202.34 L186.02,200.43 L186.57,198.29 L187.11,195.89 L187.66,193.17 L188.2,190.21 L188.75,187.11 L189.29,184.29 L189.84,182.5 L190.38,182.44 L190.92,183.98 L191.47,186.36 L192.01,188.93 L192.56,191.51 L193.1,194 L193.65,196.26 L194.19,198.23 L194.74,199.93 L195.28,201.42 L195.83,202.78 L196.37,203.99 L196.91,204.93 L197.46,205.52 L198,205.81 L198.55,205.91 L199.09,205.96 L199.64,205.99 L200.18,206.02 L200.73,206.05 L201.27,206.08 L201.82,206.11 L202.36,206.13 L202.9,206.15 L203.45,206.17 L203.99,206.19 L204.54,206.2 L205.08,206.22 L205.63,206.24 L206.17,206.25 L206.72,206.26 L207.26,206.27 L207.81,206.28 L208.35,206.29 L208.89,206.3 L209.44,206.31 L209.98,206.32 L210.53,206.34 L211.07,206.35 L211.62,206.36 L212.16,206.37 L212.71,206.37 L213.25,206.38 L213.8,206.39 L214.34,206.4 L214.88,206.4 L215.43,206.41 L215.97,206.42 L216.52,206.43 L217.06,206.43 L217.61,206.44 L218.15,206.45 L218.7,206.45 L219.24,206.46 L219.79,206.46 L220.33,206.47 L220.87,206.48 L221.42,206.48 L221.96,206.49 L222.51,206.5 L223.05,206.5 L223.6,206.51 L224.14,206.51 L224.69,206.52 L225.23,206.52 L225.78,206.53 L226.32,206.54 L226.86,206.54 L227.41,206.55 L227.95,206.55 L228.5,206.56 L229.04,206.57 L229.59,206.57 L230.13,206.58 L230.68,206.58 L231.22,206.59 L231.77,206.59 L232.31,206.6 L232.85,206.6 L233.4,206.6 L233.94,206.6 L234.49,206.6 L235.03,206.6 L235.58,206.6 L236.12,206.6 L236.67,206.6 L237.21,206.6 L237.76,206.6 L238.3,206.6 L238.3,207 L178.4,207 Z" fill="#fff" stroke="none"/>
<path d="M178.4,204.3 L178.94,203.62 L179.49,202.63 L180.03,201.56 L180.58,200.05 L181.12,198.11 L181.67,196.22 L182.21,193.98 L182.76,191.16 L183.3,188.14 L183.85,184.88 L184.39,182.64 L184.93,183.15 L185.48,185.75 L186.02,188.92 L186.57,191.83 L187.11,193.98 L187.66,195.68 L188.2,197.66 L188.75,199.5 L189.29,200.87 L189.84,202.17 L190.38,203.29 L190.92,204.08 L191.47,204.72 L192.01,205.2 L192.56,205.53 L193.1,205.73 L193.65,205.82 L194.19,205.85 L194.74,205.85 L195.28,205.86 L195.83,205.88 L196.37,205.9 L196.91,205.91 L197.46,205.9 L198,205.89 L198.55,205.91 L199.09,205.92 L199.64,205.93 L200.18,205.95 L200.73,205.95 L201.27,205.96 L201.82,205.99 L202.36,205.99 L202.9,206.01 L203.45,206.02 L203.99,206.02 L204.54,206.03 L205.08,206.05 L205.63,206.07 L206.17,206.08 L206.72,206.1 L207.26,206.11 L207.81,206.12 L208.35,206.13 L208.89,206.14 L209.44,206.15 L209.98,206.16 L210.53,206.16 L211.07,206.17 L211.62,206.17 L212.16,206.18 L212.71,206.19 L213.25,206.21 L213.8,206.21 L214.34,206.23 L214.88,206.25 L215.43,206.26 L215.97,206.27 L216.52,206.28 L217.06,206.28 L217.61,206.3 L218.15,206.32 L218.7,206.33 L219.24,206.33 L219.79,206.34 L220.33,206.36 L220.87,206.37 L221.42,206.38 L221.96,206.4 L222.51,206.4 L223.05,206.41 L223.6,206.42 L224.14,206.43 L224.69,206.44 L225.23,206.46 L225.78,206.47 L226.32,206.48 L226.86,206.49 L227.41,206.5 L227.95,206.52 L228.5,206.53 L229.04,206.54 L229.59,206.55 L230.13,206.56 L230.68,206.57 L231.22,206.58 L231.77,206.59 L232.31,206.6 L232.85,206.6 L233.4,206.6 L233.94,206.6 L234.49,206.6 L235.03,206.6 L235.58,206.6 L236.12,206.6 L236.67,206.6 L237.21,206.6 L237.76,206.6 L238.3,206.6 L238.3,207 L178.4,207 Z" fill="#0a0a0a" stroke="#0a0a0a" stroke-width="0.6" stroke-linejoin="round"/>
<path d="M178.4,206.07 L178.94,206.07 L179.49,206.07 L180.03,206.08 L180.58,206.09 L181.12,206.09 L181.67,206.1 L182.21,206.11 L182.76,206.1 L183.3,206.02 L183.85,205.72 L184.39,205.06 L184.93,203.92 L185.48,202.34 L186.02,200.43 L186.57,198.29 L187.11,195.89 L187.66,193.17 L188.2,190.21 L188.75,187.11 L189.29,184.29 L189.84,182.5 L190.38,182.44 L190.92,183.98 L191.47,186.36 L192.01,188.93 L192.56,191.51 L193.1,194 L193.65,196.26 L194.19,198.23 L194.74,199.93 L195.28,201.42 L195.83,202.78 L196.37,203.99 L196.91,204.93 L197.46,205.52 L198,205.81 L198.55,205.91 L199.09,205.96 L199.64,205.99 L200.18,206.02 L200.73,206.05 L201.27,206.08 L201.82,206.11 L202.36,206.13 L202.9,206.15 L203.45,206.17 L203.99,206.19 L204.54,206.2 L205.08,206.22 L205.63,206.24 L206.17,206.25 L206.72,206.26 L207.26,206.27 L207.81,206.28 L208.35,206.29 L208.89,206.3 L209.44,206.31 L209.98,206.32 L210.53,206.34 L211.07,206.35 L211.62,206.36 L212.16,206.37 L212.71,206.37 L213.25,206.38 L213.8,206.39 L214.34,206.4 L214.88,206.4 L215.43,206.41 L215.97,206.42 L216.52,206.43 L217.06,206.43 L217.61,206.44 L218.15,206.45 L218.7,206.45 L219.24,206.46 L219.79,206.46 L220.33,206.47 L220.87,206.48 L221.42,206.48 L221.96,206.49 L222.51,206.5 L223.05,206.5 L223.6,206.51 L224.14,206.51 L224.69,206.52 L225.23,206.52 L225.78,206.53 L226.32,206.54 L226.86,206.54 L227.41,206.55 L227.95,206.55 L228.5,206.56 L229.04,206.57 L229.59,206.57 L230.13,206.58 L230.68,206.58 L231.22,206.59 L231.77,206.59 L232.31,206.6 L232.85,206.6 L233.4,206.6 L233.94,206.6 L234.49,206.6 L235.03,206.6 L235.58,206.6 L236.12,206.6 L236.67,206.6 L237.21,206.6 L237.76,206.6 L238.3,206.6" fill="none" stroke="#8a8a8a" stroke-width="0.7" stroke-linejoin="round"/>
<path d="M187.66,193.17 L188.2,190.21 L188.75,187.11 L189.29,184.29 L189.84,182.5 L190.38,182.44 L190.92,183.98 L191.47,186.36 L192.01,188.93 L192.56,191.51 L193.1,194 L193.65,196.26 L194.19,198.23 L194.74,199.93 L195.28,201.42 L195.83,202.78 L196.37,203.99 L196.91,204.93 L197.46,205.52" fill="none" stroke="#111" stroke-width="1.15" stroke-linejoin="round"/>
<path d="M176.4,170.8 H238.3 V209" fill="none" stroke="#444" stroke-width="1.0"/>
<path d="M178.4,170.8 V207 H238.3" fill="none" stroke="#111" stroke-width="1.3"/>
<line x1="178.4" y1="207" x2="178.4" y2="209" stroke="#222" stroke-width="0.8"/>
<line x1="193.38" y1="207" x2="193.38" y2="209" stroke="#222" stroke-width="0.8"/>
<line x1="208.35" y1="207" x2="208.35" y2="209" stroke="#222" stroke-width="0.8"/>
<line x1="223.32" y1="207" x2="223.32" y2="209" stroke="#222" stroke-width="0.8"/>
<line x1="238.3" y1="207" x2="238.3" y2="209" stroke="#222" stroke-width="0.8"/>
<line x1="176.4" y1="200.2" x2="178.4" y2="200.2" stroke="#222" stroke-width="0.8"/>
<line x1="176.4" y1="192.4" x2="178.4" y2="192.4" stroke="#222" stroke-width="0.8"/>
<line x1="176.4" y1="184.6" x2="178.4" y2="184.6" stroke="#222" stroke-width="0.8"/>
<line x1="176.4" y1="176.8" x2="178.4" y2="176.8" stroke="#222" stroke-width="0.8"/>
<text x="234.7" y="179.5" font-size="7.7" font-weight="normal" text-anchor="end" fill="#000">1.8</text>
<text x="46.2" y="218.2" font-size="8.3" font-weight="normal" text-anchor="middle" fill="#000">0</text>
<text x="75.75" y="218.2" font-size="8.3" font-weight="normal" text-anchor="middle" fill="#000">2</text>
<text x="105.3" y="218.2" font-size="8.3" font-weight="normal" text-anchor="middle" fill="#000">4</text>
<text x="142.65" y="218.2" font-size="8.3" font-weight="normal" text-anchor="middle" fill="#000">2</text>
<text x="172.7" y="218.2" font-size="8.3" font-weight="normal" text-anchor="middle" fill="#000">4</text>
<text x="208.85" y="218.2" font-size="8.3" font-weight="normal" text-anchor="middle" fill="#000">2</text>
<text x="238.8" y="218.2" font-size="8.3" font-weight="normal" text-anchor="middle" fill="#000">4</text>
<text x="94.5" y="227.2" font-size="7.8" font-weight="normal" text-anchor="start" fill="#000">Log fluorescence intensity</text>
<text x="264.6" y="12.7" font-size="16.5" font-weight="bold" text-anchor="start" fill="#000">B</text>
<text x="287" y="9.2" font-size="10" font-weight="bold" text-anchor="start" fill="#000">Non-permeabilized</text>
<text x="298.3" y="28.9" font-size="8.5" font-weight="normal" text-anchor="start" fill="#000">CysLT<tspan font-size="7.4" dy="2">1</tspan></text>
<text x="380.4" y="28.7" font-size="8.5" font-weight="normal" text-anchor="start" fill="#000">CysLT<tspan font-size="7.4" dy="2">2</tspan></text>
<path d="M272.5,74.53 L273.18,74.21 L273.85,73.99 L274.53,74.09 L275.2,74.1 L275.88,73.73 L276.55,73.48 L277.23,73.52 L277.9,73.44 L278.58,73.05 L279.25,72.38 L279.93,71.69 L280.61,71.07 L281.28,70.55 L281.96,70.17 L282.63,69.37 L283.31,68.17 L283.98,67.23 L284.66,66.33 L285.33,65.28 L286.01,64.57 L286.68,63.76 L287.36,62.64 L288.04,61.44 L288.71,60.06 L289.39,58.98 L290.06,57.98 L290.74,57.19 L291.41,56.85 L292.09,56.68 L292.76,56.18 L293.44,55.17 L294.11,54.71 L294.79,55.37 L295.47,56.64 L296.14,57.18 L296.82,57.84 L297.49,59.65 L298.17,61.49 L298.84,62.92 L299.52,63.98 L300.19,65.13 L300.87,66.63 L301.54,67.96 L302.22,69.33 L302.9,70.74 L303.57,71.92 L304.25,73.04 L304.92,74.05 L305.6,74.99 L306.27,75.82 L306.95,76.48 L307.62,77.06 L308.3,77.5 L308.97,77.85 L309.65,78.2 L310.33,78.5 L311,78.68 L311.68,78.82 L312.35,78.93 L313.03,78.99 L313.7,79 L314.38,79.03 L315.05,79.1 L315.73,79.14 L316.4,79.15 L317.08,79.15 L317.76,79.18 L318.43,79.21 L319.11,79.23 L319.78,79.27 L320.46,79.3 L321.13,79.34 L321.81,79.38 L322.48,79.4 L323.16,79.41 L323.83,79.42 L324.51,79.44 L325.19,79.46 L325.86,79.47 L326.54,79.5 L327.21,79.54 L327.89,79.55 L328.56,79.56 L329.24,79.57 L329.91,79.61 L330.59,79.63 L331.26,79.64 L331.94,79.66 L332.62,79.67 L333.29,79.69 L333.97,79.71 L334.64,79.73 L335.32,79.75 L335.99,79.77 L336.67,79.78 L337.34,79.8 L338.02,79.82 L338.69,79.84 L339.37,79.85 L340.05,79.85 L340.72,79.86 L341.4,79.86 L342.07,79.86 L342.75,79.86 L343.42,79.86 L344.1,79.86 L344.77,79.87 L345.45,79.87 L346.12,79.87 L346.8,79.87 L346.8,80.4 L272.5,80.4 Z" fill="#e8f4fd" fill-opacity="0.5" stroke="none"/>
<path d="M272.5,47.97 L273.18,47.45 L273.85,45.17 L274.53,42.08 L275.2,40.3 L275.88,39.44 L276.55,38.72 L277.23,37.73 L277.9,36.6 L278.58,36.41 L279.25,37.09 L279.93,39.53 L280.61,43.25 L281.28,46.56 L281.96,49.51 L282.63,52.44 L283.31,56.15 L283.98,60.03 L284.66,62.85 L285.33,64.92 L286.01,66.68 L286.68,68.22 L287.36,69.58 L288.04,70.75 L288.71,71.63 L289.39,72.22 L290.06,72.87 L290.74,73.49 L291.41,73.84 L292.09,74.22 L292.76,74.83 L293.44,75.29 L294.11,75.6 L294.79,76.01 L295.47,76.38 L296.14,76.7 L296.82,77 L297.49,77.27 L298.17,77.49 L298.84,77.69 L299.52,77.93 L300.19,78.2 L300.87,78.36 L301.54,78.48 L302.22,78.62 L302.9,78.75 L303.57,78.87 L304.25,78.97 L304.92,79.07 L305.6,79.14 L306.27,79.18 L306.95,79.23 L307.62,79.28 L308.3,79.33 L308.97,79.37 L309.65,79.4 L310.33,79.42 L311,79.45 L311.68,79.47 L312.35,79.49 L313.03,79.51 L313.7,79.53 L314.38,79.55 L315.05,79.56 L315.73,79.56 L316.4,79.56 L317.08,79.58 L317.76,79.59 L318.43,79.61 L319.11,79.62 L319.78,79.63 L320.46,79.64 L321.13,79.65 L321.81,79.65 L322.48,79.66 L323.16,79.67 L323.83,79.68 L324.51,79.69 L325.19,79.7 L325.86,79.71 L326.54,79.72 L327.21,79.73 L327.89,79.73 L328.56,79.74 L329.24,79.75 L329.91,79.76 L330.59,79.77 L331.26,79.78 L331.94,79.8 L332.62,79.81 L333.29,79.81 L333.97,79.82 L334.64,79.83 L335.32,79.84 L335.99,79.85 L336.67,79.86 L337.34,79.87 L338.02,79.88 L338.69,79.89 L339.37,79.9 L340.05,79.9 L340.72,79.9 L341.4,79.9 L342.07,79.9 L342.75,79.9 L343.42,79.9 L344.1,79.9 L344.77,79.9 L345.45,79.9 L346.12,79.9 L346.8,79.9 L346.8,80.4 L272.5,80.4 Z" fill="#6a12c8" stroke="none"/>
<path d="M272.5,62.83 L273.18,60.93 L273.85,57.55 L274.53,53.1 L275.2,49.18 L275.88,45.77 L276.55,41.64 L277.23,39.12 L277.9,38.17 L278.58,37.47 L279.25,38.6 L279.93,40.01 L280.61,40.92 L281.28,43.42 L281.96,46.69 L282.63,49.53 L283.31,52.35 L283.98,56.09 L284.66,59.93 L285.33,62.41 L286.01,64.45 L286.68,66.28 L287.36,67.71 L288.04,69.18 L288.71,70.25 L289.39,71 L290.06,71.89 L290.74,72.65 L291.41,73.15 L292.09,73.59 L292.76,74.08 L293.44,74.63 L294.11,75.23 L294.79,75.72 L295.47,76 L296.14,76.28 L296.82,76.6 L297.49,76.96 L298.17,77.36 L298.84,77.68 L299.52,77.87 L300.19,78.04 L300.87,78.27 L301.54,78.45 L302.22,78.54 L302.9,78.69 L303.57,78.83 L304.25,78.91 L304.92,78.99 L305.6,79.09 L306.27,79.18 L306.95,79.22 L307.62,79.27 L308.3,79.3 L308.97,79.33 L309.65,79.36 L310.33,79.4 L311,79.45 L311.68,79.48 L312.35,79.49 L313.03,79.51 L313.7,79.52 L314.38,79.53 L315.05,79.55 L315.73,79.56 L316.4,79.57 L317.08,79.57 L317.76,79.58 L318.43,79.59 L319.11,79.61 L319.78,79.63 L320.46,79.63 L321.13,79.63 L321.81,79.63 L322.48,79.65 L323.16,79.67 L323.83,79.69 L324.51,79.69 L325.19,79.7 L325.86,79.71 L326.54,79.72 L327.21,79.72 L327.89,79.73 L328.56,79.74 L329.24,79.75 L329.91,79.76 L330.59,79.77 L331.26,79.78 L331.94,79.8 L332.62,79.8 L333.29,79.81 L333.97,79.82 L334.64,79.83 L335.32,79.84 L335.99,79.85 L336.67,79.86 L337.34,79.87 L338.02,79.88 L338.69,79.89 L339.37,79.9 L340.05,79.9 L340.72,79.9 L341.4,79.9 L342.07,79.9 L342.75,79.9 L343.42,79.9 L344.1,79.9 L344.77,79.9 L345.45,79.9 L346.12,79.9 L346.8,79.9" fill="none" stroke="#222" stroke-width="0.8" stroke-linejoin="round"/>
<path d="M272.5,45.96 L273.18,45.14 L273.85,43.22 L274.53,41.59 L275.2,40.46 L275.88,39.37 L276.55,37.67 L277.23,35.42 L277.9,34.12 L278.58,34.89 L279.25,36.77 L279.93,38.4 L280.61,40.6 L281.28,43.45 L281.96,46.85 L282.63,50.31 L283.31,53.59 L283.98,57.11 L284.66,59.71 L285.33,61.88 L286.01,64.24 L286.68,65.97 L287.36,67.36 L288.04,68.77 L288.71,69.74 L289.39,70.49 L290.06,71.27 L290.74,71.91 L291.41,72.52 L292.09,73.05 L292.76,73.49 L293.44,73.99 L294.11,74.49 L294.79,74.9 L295.47,75.33 L296.14,75.75 L296.82,76.1 L297.49,76.41 L298.17,76.68 L298.84,76.97 L299.52,77.25 L300.19,77.5 L300.87,77.75 L301.54,77.98 L302.22,78.14 L302.9,78.25 L303.57,78.4 L304.25,78.54 L304.92,78.64 L305.6,78.74 L306.27,78.85 L306.95,78.93 L307.62,78.98 L308.3,79.04 L308.97,79.08 L309.65,79.12 L310.33,79.16 L311,79.21 L311.68,79.26 L312.35,79.28 L313.03,79.29 L313.7,79.31 L314.38,79.35 L315.05,79.37 L315.73,79.39 L316.4,79.4 L317.08,79.41 L317.76,79.41 L318.43,79.43 L319.11,79.45 L319.78,79.47 L320.46,79.48 L321.13,79.48 L321.81,79.5 L322.48,79.52 L323.16,79.54 L323.83,79.55 L324.51,79.57 L325.19,79.59 L325.86,79.6 L326.54,79.62 L327.21,79.63 L327.89,79.65 L328.56,79.66 L329.24,79.68 L329.91,79.69 L330.59,79.71 L331.26,79.72 L331.94,79.74 L332.62,79.75 L333.29,79.77 L333.97,79.78 L334.64,79.79 L335.32,79.81 L335.99,79.82 L336.67,79.84 L337.34,79.85 L338.02,79.86 L338.69,79.88 L339.37,79.89 L340.05,79.89 L340.72,79.89 L341.4,79.89 L342.07,79.89 L342.75,79.9 L343.42,79.9 L344.1,79.9 L344.77,79.9 L345.45,79.9 L346.12,79.9 L346.8,79.9" fill="none" stroke="#2fd032" stroke-width="1.0" stroke-linejoin="round"/>
<path d="M272.5,72.46 L273.18,72.24 L273.85,72.13 L274.53,71.88 L275.2,71.42 L275.88,71.22 L276.55,70.97 L277.23,70.55 L277.9,70.31 L278.58,69.96 L279.25,69.26 L279.93,68.11 L280.61,67.21 L281.28,66.51 L281.96,65.15 L282.63,63.9 L283.31,63.13 L283.98,61.92 L284.66,59.99 L285.33,58.45 L286.01,57.49 L286.68,56.01 L287.36,54.73 L288.04,53.99 L288.71,52.87 L289.39,52.34 L290.06,52.49 L290.74,52.42 L291.41,52.75 L292.09,53.03 L292.76,53.98 L293.44,55.64 L294.11,56.33 L294.79,57.58 L295.47,60.26 L296.14,62.66 L296.82,63.88 L297.49,65.01 L298.17,66.73 L298.84,68.29 L299.52,69.76 L300.19,71.21 L300.87,72.59 L301.54,73.72 L302.22,74.56 L302.9,75.48 L303.57,76.16 L304.25,76.64 L304.92,77.15 L305.6,77.59 L306.27,77.99 L306.95,78.38 L307.62,78.61 L308.3,78.72 L308.97,78.82 L309.65,78.9 L310.33,78.93 L311,78.96 L311.68,79 L312.35,79.05 L313.03,79.06 L313.7,79.06 L314.38,79.08 L315.05,79.12 L315.73,79.16 L316.4,79.2 L317.08,79.22 L317.76,79.25 L318.43,79.27 L319.11,79.29 L319.78,79.31 L320.46,79.33 L321.13,79.35 L321.81,79.39 L322.48,79.41 L323.16,79.41 L323.83,79.43 L324.51,79.46 L325.19,79.48 L325.86,79.49 L326.54,79.5 L327.21,79.53 L327.89,79.57 L328.56,79.59 L329.24,79.61 L329.91,79.63 L330.59,79.65 L331.26,79.66 L331.94,79.67 L332.62,79.69 L333.29,79.71 L333.97,79.73 L334.64,79.74 L335.32,79.76 L335.99,79.77 L336.67,79.79 L337.34,79.81 L338.02,79.82 L338.69,79.84 L339.37,79.85 L340.05,79.86 L340.72,79.86 L341.4,79.86 L342.07,79.87 L342.75,79.87 L343.42,79.87 L344.1,79.87 L344.77,79.87 L345.45,79.87 L346.12,79.88 L346.8,79.88" fill="none" stroke="#d8201c" stroke-width="1.55" stroke-linejoin="round"/>
<path d="M272.5,74.53 L273.18,74.21 L273.85,73.99 L274.53,74.09 L275.2,74.1 L275.88,73.73 L276.55,73.48 L277.23,73.52 L277.9,73.44 L278.58,73.05 L279.25,72.38 L279.93,71.69 L280.61,71.07 L281.28,70.55 L281.96,70.17 L282.63,69.37 L283.31,68.17 L283.98,67.23 L284.66,66.33 L285.33,65.28 L286.01,64.57 L286.68,63.76 L287.36,62.64 L288.04,61.44 L288.71,60.06 L289.39,58.98 L290.06,57.98 L290.74,57.19 L291.41,56.85 L292.09,56.68 L292.76,56.18 L293.44,55.17 L294.11,54.71 L294.79,55.37 L295.47,56.64 L296.14,57.18 L296.82,57.84 L297.49,59.65 L298.17,61.49 L298.84,62.92 L299.52,63.98 L300.19,65.13 L300.87,66.63 L301.54,67.96 L302.22,69.33 L302.9,70.74 L303.57,71.92 L304.25,73.04 L304.92,74.05 L305.6,74.99 L306.27,75.82 L306.95,76.48 L307.62,77.06 L308.3,77.5 L308.97,77.85 L309.65,78.2 L310.33,78.5 L311,78.68 L311.68,78.82 L312.35,78.93 L313.03,78.99 L313.7,79 L314.38,79.03 L315.05,79.1 L315.73,79.14 L316.4,79.15 L317.08,79.15 L317.76,79.18 L318.43,79.21 L319.11,79.23 L319.78,79.27 L320.46,79.3 L321.13,79.34 L321.81,79.38 L322.48,79.4 L323.16,79.41 L323.83,79.42 L324.51,79.44 L325.19,79.46 L325.86,79.47 L326.54,79.5 L327.21,79.54 L327.89,79.55 L328.56,79.56 L329.24,79.57 L329.91,79.61 L330.59,79.63 L331.26,79.64 L331.94,79.66 L332.62,79.67 L333.29,79.69 L333.97,79.71 L334.64,79.73 L335.32,79.75 L335.99,79.77 L336.67,79.78 L337.34,79.8 L338.02,79.82 L338.69,79.84 L339.37,79.85 L340.05,79.85 L340.72,79.86 L341.4,79.86 L342.07,79.86 L342.75,79.86 L343.42,79.86 L344.1,79.86 L344.77,79.87 L345.45,79.87 L346.12,79.87 L346.8,79.87" fill="none" stroke="#1e8ff0" stroke-width="1.55" stroke-linejoin="round"/>
<path d="M272.5,34 H346.8 V80.4" fill="none" stroke="#777" stroke-width="0.9"/>
<path d="M272.5,80.4 H346.8" fill="none" stroke="#222" stroke-width="1.2"/>
<path d="M272.5,34 V80.4" fill="none" stroke="#2fd032" stroke-width="1.4"/>
<line x1="272.5" y1="80.4" x2="272.5" y2="82.6" stroke="#222" stroke-width="0.8"/>
<line x1="291.07" y1="80.4" x2="291.07" y2="82.6" stroke="#222" stroke-width="0.8"/>
<line x1="309.65" y1="80.4" x2="309.65" y2="82.6" stroke="#222" stroke-width="0.8"/>
<line x1="328.23" y1="80.4" x2="328.23" y2="82.6" stroke="#222" stroke-width="0.8"/>
<line x1="346.8" y1="80.4" x2="346.8" y2="82.6" stroke="#222" stroke-width="0.8"/>
<line x1="270.3" y1="45" x2="272.5" y2="45" stroke="#222" stroke-width="0.8"/>
<line x1="270.3" y1="57.4" x2="272.5" y2="57.4" stroke="#222" stroke-width="0.8"/>
<line x1="270.3" y1="69" x2="272.5" y2="69" stroke="#222" stroke-width="0.8"/>
<text x="273.1" y="90.2" font-size="8.3" font-weight="normal" text-anchor="middle" fill="#000">0</text>
<text x="310.65" y="90.2" font-size="8.3" font-weight="normal" text-anchor="middle" fill="#000">2</text>
<text x="344.2" y="90.2" font-size="8.3" font-weight="normal" text-anchor="middle" fill="#000">4</text>
<path d="M356.4,76.85 L357.08,76.75 L357.75,76.59 L358.43,76.36 L359.1,76.13 L359.78,75.93 L360.45,75.69 L361.13,75.43 L361.8,75.2 L362.48,74.99 L363.15,74.63 L363.83,74.25 L364.51,74.02 L365.18,73.87 L365.86,73.62 L366.53,73.16 L367.21,72.84 L367.88,72.8 L368.56,72.74 L369.23,72.63 L369.91,72.47 L370.58,72.16 L371.26,71.96 L371.94,72.09 L372.61,72.28 L373.29,72.44 L373.96,72.57 L374.64,72.61 L375.31,72.85 L375.99,73.11 L376.66,73.2 L377.34,73.42 L378.01,73.69 L378.69,73.89 L379.37,74 L380.04,74.1 L380.72,74.36 L381.39,74.67 L382.07,74.9 L382.74,75.21 L383.42,75.47 L384.09,75.63 L384.77,75.89 L385.44,76.13 L386.12,76.34 L386.8,76.55 L387.47,76.75 L388.15,76.95 L388.82,77.1 L389.5,77.26 L390.17,77.51 L390.85,77.71 L391.52,77.85 L392.2,78.01 L392.87,78.14 L393.55,78.27 L394.23,78.4 L394.9,78.47 L395.58,78.55 L396.25,78.66 L396.93,78.76 L397.6,78.83 L398.28,78.91 L398.95,78.98 L399.63,79.01 L400.3,79.04 L400.98,79.08 L401.66,79.12 L402.33,79.17 L403.01,79.2 L403.68,79.25 L404.36,79.29 L405.03,79.32 L405.71,79.34 L406.38,79.35 L407.06,79.38 L407.73,79.42 L408.41,79.46 L409.09,79.49 L409.76,79.52 L410.44,79.55 L411.11,79.57 L411.79,79.59 L412.46,79.62 L413.14,79.65 L413.81,79.68 L414.49,79.7 L415.16,79.74 L415.84,79.76 L416.52,79.78 L417.19,79.8 L417.87,79.83 L418.54,79.86 L419.22,79.88 L419.89,79.91 L420.57,79.94 L421.24,79.97 L421.92,80 L422.59,80.02 L423.27,80.04 L423.95,80.05 L424.62,80.05 L425.3,80.05 L425.97,80.05 L426.65,80.06 L427.32,80.06 L428,80.06 L428.67,80.06 L429.35,80.06 L430.02,80.07 L430.7,80.07 L430.7,80.6 L356.4,80.6 Z" fill="#7fd8f0" fill-opacity="0.7" stroke="none"/>
<path d="M356.4,77.78 L357.08,77.58 L357.75,77.17 L358.43,76.48 L359.1,75.48 L359.78,74.13 L360.45,72.33 L361.13,70.07 L361.8,67.16 L362.48,63.52 L363.15,59.61 L363.83,55.73 L364.51,52.05 L365.18,48.2 L365.86,44.1 L366.53,40.84 L367.21,39.49 L367.88,39.96 L368.56,40.87 L369.23,41.45 L369.91,43.06 L370.58,45.9 L371.26,48.87 L371.94,52.22 L372.61,55.76 L373.29,59.03 L373.96,62.02 L374.64,64.62 L375.31,66.97 L375.99,69.36 L376.66,71.68 L377.34,73.39 L378.01,74.67 L378.69,75.83 L379.37,76.73 L380.04,77.36 L380.72,77.78 L381.39,77.94 L382.07,78 L382.74,78.05 L383.42,78.1 L384.09,78.21 L384.77,78.28 L385.44,78.31 L386.12,78.37 L386.8,78.42 L387.47,78.47 L388.15,78.54 L388.82,78.62 L389.5,78.68 L390.17,78.7 L390.85,78.75 L391.52,78.79 L392.2,78.83 L392.87,78.87 L393.55,78.93 L394.23,78.97 L394.9,78.99 L395.58,79.03 L396.25,79.08 L396.93,79.11 L397.6,79.14 L398.28,79.18 L398.95,79.21 L399.63,79.24 L400.3,79.26 L400.98,79.3 L401.66,79.32 L402.33,79.36 L403.01,79.4 L403.68,79.43 L404.36,79.44 L405.03,79.46 L405.71,79.49 L406.38,79.52 L407.06,79.54 L407.73,79.58 L408.41,79.6 L409.09,79.61 L409.76,79.63 L410.44,79.66 L411.11,79.68 L411.79,79.71 L412.46,79.73 L413.14,79.75 L413.81,79.77 L414.49,79.8 L415.16,79.82 L415.84,79.84 L416.52,79.87 L417.19,79.89 L417.87,79.91 L418.54,79.93 L419.22,79.95 L419.89,79.97 L420.57,79.99 L421.24,80.02 L421.92,80.04 L422.59,80.06 L423.27,80.07 L423.95,80.08 L424.62,80.08 L425.3,80.08 L425.97,80.08 L426.65,80.08 L427.32,80.08 L428,80.08 L428.67,80.08 L429.35,80.09 L430.02,80.09 L430.7,80.09 L430.7,80.6 L356.4,80.6 Z" fill="#fff" stroke="none"/>
<path d="M356.4,78.61 L357.08,78.48 L357.75,78.25 L358.43,77.9 L359.1,77.35 L359.78,76.44 L360.45,75 L361.13,73.02 L361.8,70.36 L362.48,66.96 L363.15,63.25 L363.83,59.63 L364.51,55.6 L365.18,50.96 L365.86,47.49 L366.53,45.87 L367.21,44.89 L367.88,44.74 L368.56,46.64 L369.23,49.7 L369.91,52.6 L370.58,55.86 L371.26,58.96 L371.94,61.69 L372.61,64.82 L373.29,67.83 L373.96,70.43 L374.64,72.68 L375.31,74.45 L375.99,75.75 L376.66,76.71 L377.34,77.51 L378.01,78.13 L378.69,78.53 L379.37,78.71 L380.04,78.77 L380.72,78.81 L381.39,78.84 L382.07,78.88 L382.74,78.94 L383.42,78.98 L384.09,79.02 L384.77,79.04 L385.44,79.08 L386.12,79.11 L386.8,79.12 L387.47,79.16 L388.15,79.19 L388.82,79.2 L389.5,79.22 L390.17,79.25 L390.85,79.29 L391.52,79.31 L392.2,79.32 L392.87,79.34 L393.55,79.37 L394.23,79.4 L394.9,79.42 L395.58,79.45 L396.25,79.47 L396.93,79.5 L397.6,79.51 L398.28,79.51 L398.95,79.53 L399.63,79.55 L400.3,79.58 L400.98,79.6 L401.66,79.62 L402.33,79.62 L403.01,79.63 L403.68,79.65 L404.36,79.67 L405.03,79.68 L405.71,79.69 L406.38,79.72 L407.06,79.74 L407.73,79.76 L408.41,79.77 L409.09,79.78 L409.76,79.8 L410.44,79.81 L411.11,79.83 L411.79,79.85 L412.46,79.86 L413.14,79.87 L413.81,79.89 L414.49,79.9 L415.16,79.92 L415.84,79.93 L416.52,79.95 L417.19,79.96 L417.87,79.98 L418.54,79.99 L419.22,80.01 L419.89,80.02 L420.57,80.04 L421.24,80.05 L421.92,80.07 L422.59,80.08 L423.27,80.09 L423.95,80.1 L424.62,80.1 L425.3,80.1 L425.97,80.1 L426.65,80.1 L427.32,80.1 L428,80.1 L428.67,80.1 L429.35,80.1 L430.02,80.1 L430.7,80.1 L430.7,80.6 L356.4,80.6 Z" fill="#f4eefa" stroke="none"/>
<path d="M356.4,73.5 L357.08,71.92 L357.75,69.32 L358.43,65.7 L359.1,60.97 L359.78,55.28 L360.45,49.83 L361.13,45.88 L361.8,43.1 L362.48,42.38 L363.15,44.36 L363.83,47.85 L364.51,52.93 L365.18,58.45 L365.86,62.8 L366.53,66.2 L367.21,69.17 L367.88,71.68 L368.56,73.38 L369.23,74.45 L369.91,75.1 L370.58,75.63 L371.26,76.16 L371.94,76.48 L372.61,76.69 L373.29,76.92 L373.96,77.11 L374.64,77.33 L375.31,77.54 L375.99,77.68 L376.66,77.82 L377.34,77.97 L378.01,78.08 L378.69,78.16 L379.37,78.25 L380.04,78.34 L380.72,78.42 L381.39,78.46 L382.07,78.5 L382.74,78.6 L383.42,78.68 L384.09,78.7 L384.77,78.72 L385.44,78.76 L386.12,78.8 L386.8,78.83 L387.47,78.83 L388.15,78.84 L388.82,78.87 L389.5,78.9 L390.17,78.93 L390.85,78.95 L391.52,78.97 L392.2,78.97 L392.87,78.97 L393.55,79.01 L394.23,79.06 L394.9,79.11 L395.58,79.13 L396.25,79.14 L396.93,79.15 L397.6,79.18 L398.28,79.23 L398.95,79.24 L399.63,79.25 L400.3,79.28 L400.98,79.32 L401.66,79.36 L402.33,79.39 L403.01,79.39 L403.68,79.39 L404.36,79.42 L405.03,79.45 L405.71,79.48 L406.38,79.51 L407.06,79.53 L407.73,79.54 L408.41,79.57 L409.09,79.59 L409.76,79.62 L410.44,79.66 L411.11,79.68 L411.79,79.7 L412.46,79.72 L413.14,79.74 L413.81,79.77 L414.49,79.79 L415.16,79.82 L415.84,79.84 L416.52,79.87 L417.19,79.89 L417.87,79.91 L418.54,79.93 L419.22,79.95 L419.89,79.98 L420.57,80.01 L421.24,80.03 L421.92,80.05 L422.59,80.08 L423.27,80.09 L423.95,80.1 L424.62,80.1 L425.3,80.1 L425.97,80.1 L426.65,80.1 L427.32,80.1 L428,80.1 L428.67,80.1 L429.35,80.1 L430.02,80.1 L430.7,80.1 L430.7,80.6 L356.4,80.6 Z" fill="#2a55e0" stroke="#1e8ff0" stroke-width="0.9"/>
<path d="M356.4,77.88 L357.08,77.55 L357.75,76.98 L358.43,76.19 L359.1,74.94 L359.78,73.26 L360.45,71.1 L361.13,68.34 L361.8,65.05 L362.48,61.27 L363.15,57.64 L363.83,54.78 L364.51,52.5 L365.18,50.97 L365.86,50.83 L366.53,51.58 L367.21,52.22 L367.88,53.3 L368.56,55.53 L369.23,58.57 L369.91,61.74 L370.58,64.36 L371.26,66.89 L371.94,69.42 L372.61,71.56 L373.29,73.44 L373.96,74.94 L374.64,76.07 L375.31,76.96 L375.99,77.63 L376.66,78.07 L377.34,78.32 L378.01,78.45 L378.69,78.5 L379.37,78.54 L380.04,78.6 L380.72,78.65 L381.39,78.68 L382.07,78.7 L382.74,78.7 L383.42,78.76 L384.09,78.84 L384.77,78.87 L385.44,78.86 L386.12,78.88 L386.8,78.94 L387.47,78.97 L388.15,78.97 L388.82,79 L389.5,79.04 L390.17,79.06 L390.85,79.08 L391.52,79.12 L392.2,79.15 L392.87,79.17 L393.55,79.19 L394.23,79.24 L394.9,79.28 L395.58,79.29 L396.25,79.28 L396.93,79.31 L397.6,79.35 L398.28,79.38 L398.95,79.41 L399.63,79.43 L400.3,79.45 L400.98,79.45 L401.66,79.44 L402.33,79.46 L403.01,79.49 L403.68,79.53 L404.36,79.55 L405.03,79.56 L405.71,79.57 L406.38,79.6 L407.06,79.63 L407.73,79.66 L408.41,79.67 L409.09,79.68 L409.76,79.7 L410.44,79.73 L411.11,79.75 L411.79,79.77 L412.46,79.79 L413.14,79.8 L413.81,79.82 L414.49,79.85 L415.16,79.87 L415.84,79.88 L416.52,79.9 L417.19,79.92 L417.87,79.94 L418.54,79.96 L419.22,79.98 L419.89,80 L420.57,80.02 L421.24,80.04 L421.92,80.06 L422.59,80.08 L423.27,80.09 L423.95,80.1 L424.62,80.1 L425.3,80.1 L425.97,80.1 L426.65,80.1 L427.32,80.1 L428,80.1 L428.67,80.1 L429.35,80.1 L430.02,80.1 L430.7,80.1 L430.7,80.6 L356.4,80.6 Z" fill="#6a12c8" stroke="none"/>
<path d="M356.4,78.61 L357.08,78.48 L357.75,78.25 L358.43,77.9 L359.1,77.35 L359.78,76.44 L360.45,75 L361.13,73.02 L361.8,70.36 L362.48,66.96 L363.15,63.25 L363.83,59.63 L364.51,55.6 L365.18,50.96 L365.86,47.49 L366.53,45.87 L367.21,44.89 L367.88,44.74 L368.56,46.64 L369.23,49.7 L369.91,52.6 L370.58,55.86 L371.26,58.96 L371.94,61.69 L372.61,64.82 L373.29,67.83 L373.96,70.43 L374.64,72.68 L375.31,74.45 L375.99,75.75 L376.66,76.71 L377.34,77.51 L378.01,78.13 L378.69,78.53 L379.37,78.71 L380.04,78.77 L380.72,78.81 L381.39,78.84 L382.07,78.88 L382.74,78.94 L383.42,78.98 L384.09,79.02 L384.77,79.04 L385.44,79.08 L386.12,79.11 L386.8,79.12 L387.47,79.16 L388.15,79.19 L388.82,79.2 L389.5,79.22 L390.17,79.25 L390.85,79.29 L391.52,79.31 L392.2,79.32 L392.87,79.34 L393.55,79.37 L394.23,79.4 L394.9,79.42 L395.58,79.45 L396.25,79.47 L396.93,79.5 L397.6,79.51 L398.28,79.51 L398.95,79.53 L399.63,79.55 L400.3,79.58 L400.98,79.6 L401.66,79.62 L402.33,79.62 L403.01,79.63 L403.68,79.65 L404.36,79.67 L405.03,79.68 L405.71,79.69 L406.38,79.72 L407.06,79.74 L407.73,79.76 L408.41,79.77 L409.09,79.78 L409.76,79.8 L410.44,79.81 L411.11,79.83 L411.79,79.85 L412.46,79.86 L413.14,79.87 L413.81,79.89 L414.49,79.9 L415.16,79.92 L415.84,79.93 L416.52,79.95 L417.19,79.96 L417.87,79.98 L418.54,79.99 L419.22,80.01 L419.89,80.02 L420.57,80.04 L421.24,80.05 L421.92,80.07 L422.59,80.08 L423.27,80.09 L423.95,80.1 L424.62,80.1 L425.3,80.1 L425.97,80.1 L426.65,80.1 L427.32,80.1 L428,80.1 L428.67,80.1 L429.35,80.1 L430.02,80.1 L430.7,80.1" fill="none" stroke="#d8201c" stroke-width="1.15" stroke-linejoin="round"/>
<path d="M356.4,77.78 L357.08,77.58 L357.75,77.17 L358.43,76.48 L359.1,75.48 L359.78,74.13 L360.45,72.33 L361.13,70.07 L361.8,67.16 L362.48,63.52 L363.15,59.61 L363.83,55.73 L364.51,52.05 L365.18,48.2 L365.86,44.1 L366.53,40.84 L367.21,39.49 L367.88,39.96 L368.56,40.87 L369.23,41.45 L369.91,43.06 L370.58,45.9 L371.26,48.87 L371.94,52.22 L372.61,55.76 L373.29,59.03 L373.96,62.02 L374.64,64.62 L375.31,66.97 L375.99,69.36 L376.66,71.68 L377.34,73.39 L378.01,74.67 L378.69,75.83 L379.37,76.73 L380.04,77.36 L380.72,77.78 L381.39,77.94 L382.07,78 L382.74,78.05 L383.42,78.1 L384.09,78.21 L384.77,78.28 L385.44,78.31 L386.12,78.37 L386.8,78.42 L387.47,78.47 L388.15,78.54 L388.82,78.62 L389.5,78.68 L390.17,78.7 L390.85,78.75 L391.52,78.79 L392.2,78.83 L392.87,78.87 L393.55,78.93 L394.23,78.97 L394.9,78.99 L395.58,79.03 L396.25,79.08 L396.93,79.11 L397.6,79.14 L398.28,79.18 L398.95,79.21 L399.63,79.24 L400.3,79.26 L400.98,79.3 L401.66,79.32 L402.33,79.36 L403.01,79.4 L403.68,79.43 L404.36,79.44 L405.03,79.46 L405.71,79.49 L406.38,79.52 L407.06,79.54 L407.73,79.58 L408.41,79.6 L409.09,79.61 L409.76,79.63 L410.44,79.66 L411.11,79.68 L411.79,79.71 L412.46,79.73 L413.14,79.75 L413.81,79.77 L414.49,79.8 L415.16,79.82 L415.84,79.84 L416.52,79.87 L417.19,79.89 L417.87,79.91 L418.54,79.93 L419.22,79.95 L419.89,79.97 L420.57,79.99 L421.24,80.02 L421.92,80.04 L422.59,80.06 L423.27,80.07 L423.95,80.08 L424.62,80.08 L425.3,80.08 L425.97,80.08 L426.65,80.08 L427.32,80.08 L428,80.08 L428.67,80.08 L429.35,80.09 L430.02,80.09 L430.7,80.09" fill="none" stroke="#2fd032" stroke-width="1.0" stroke-linejoin="round"/>
<path d="M356.4,34 H430.7 V80.6" fill="none" stroke="#777" stroke-width="0.9"/>
<path d="M356.4,80.6 H430.7" fill="none" stroke="#222" stroke-width="1.2"/>
<path d="M356.4,34 V80.6" fill="none" stroke="#1e8ff0" stroke-width="1.5"/>
<line x1="356.4" y1="80.6" x2="356.4" y2="82.8" stroke="#222" stroke-width="0.8"/>
<line x1="374.97" y1="80.6" x2="374.97" y2="82.8" stroke="#222" stroke-width="0.8"/>
<line x1="393.55" y1="80.6" x2="393.55" y2="82.8" stroke="#222" stroke-width="0.8"/>
<line x1="412.12" y1="80.6" x2="412.12" y2="82.8" stroke="#222" stroke-width="0.8"/>
<line x1="430.7" y1="80.6" x2="430.7" y2="82.8" stroke="#222" stroke-width="0.8"/>
<line x1="354.2" y1="45" x2="356.4" y2="45" stroke="#222" stroke-width="0.8"/>
<line x1="354.2" y1="57.4" x2="356.4" y2="57.4" stroke="#222" stroke-width="0.8"/>
<line x1="354.2" y1="69" x2="356.4" y2="69" stroke="#222" stroke-width="0.8"/>
<text x="357" y="90.2" font-size="8.3" font-weight="normal" text-anchor="middle" fill="#000">0</text>
<text x="394.15" y="90.2" font-size="8.3" font-weight="normal" text-anchor="middle" fill="#000">2</text>
<text x="429.9" y="90.2" font-size="8.3" font-weight="normal" text-anchor="middle" fill="#000">4</text>
<text x="305.8" y="97.3" font-size="7.8" font-weight="normal" text-anchor="start" fill="#000">Log fluorescence intensity</text>
<line x1="439.2" y1="41.4" x2="458.8" y2="41.4" stroke="#6a12c8" stroke-width="2.3"/>
<text x="463.6" y="44.3" font-size="8.35" font-weight="normal" text-anchor="start" fill="#000">IgG control</text>
<line x1="439.2" y1="52.3" x2="458.8" y2="52.3" stroke="#2fd032" stroke-width="2.3"/>
<text x="463.6" y="55.2" font-size="8.35" font-weight="normal" text-anchor="start" fill="#000">CysLT<tspan font-size="6.9" dy="1.9">1</tspan><tspan dy="-1.9"> KD</tspan></text>
<line x1="439.2" y1="63.2" x2="458.8" y2="63.2" stroke="#1e8ff0" stroke-width="2.3"/>
<text x="463.6" y="66.1" font-size="8.35" font-weight="normal" text-anchor="start" fill="#000">CysLT<tspan font-size="6.9" dy="1.9">2</tspan><tspan dy="-1.9"> KD</tspan></text>
<line x1="439.2" y1="74.1" x2="458.8" y2="74.1" stroke="#d8201c" stroke-width="2.3"/>
<text x="463.6" y="77" font-size="8.35" font-weight="normal" text-anchor="start" fill="#000">Vector</text>
<text x="264.6" y="138" font-size="16.5" font-weight="bold" text-anchor="start" fill="#000">C</text>
<text x="288.6" y="133.5" font-size="10" font-weight="bold" text-anchor="start" fill="#000">Mouse</text>
<text x="271.2" y="153.7" font-size="9.05" font-weight="normal" text-anchor="start" fill="#000">Non-permeabilized</text>
<text x="365.3" y="153.6" font-size="9" font-weight="normal" text-anchor="start" fill="#000">Permeabilized</text>
<path d="M272.7,198.66 L273.38,198.63 L274.06,198.58 L274.74,198.58 L275.42,198.65 L276.1,198.66 L276.77,198.64 L277.45,198.63 L278.13,198.63 L278.81,198.64 L279.49,198.65 L280.17,198.6 L280.85,198.43 L281.53,198.11 L282.21,197.65 L282.89,196.81 L283.57,195.5 L284.24,193.88 L284.92,191.8 L285.6,189.22 L286.28,186.31 L286.96,183.51 L287.64,181.44 L288.32,179.95 L289,178.93 L289.68,178.34 L290.36,178.19 L291.04,178.82 L291.71,179.56 L292.39,179.79 L293.07,180.37 L293.75,182.13 L294.43,184.11 L295.11,185.71 L295.79,187.62 L296.47,189.4 L297.15,190.68 L297.83,191.83 L298.51,192.96 L299.18,194.07 L299.86,195.09 L300.54,195.96 L301.22,196.62 L301.9,197.18 L302.58,197.7 L303.26,198.1 L303.94,198.39 L304.62,198.61 L305.3,198.77 L305.98,198.9 L306.65,199.02 L307.33,199.13 L308.01,199.19 L308.69,199.19 L309.37,199.19 L310.05,199.22 L310.73,199.24 L311.41,199.25 L312.09,199.27 L312.77,199.31 L313.45,199.34 L314.12,199.35 L314.8,199.34 L315.48,199.36 L316.16,199.38 L316.84,199.4 L317.52,199.43 L318.2,199.46 L318.88,199.47 L319.56,199.47 L320.24,199.48 L320.92,199.49 L321.59,199.51 L322.27,199.53 L322.95,199.55 L323.63,199.56 L324.31,199.58 L324.99,199.59 L325.67,199.61 L326.35,199.63 L327.03,199.64 L327.71,199.64 L328.39,199.66 L329.06,199.68 L329.74,199.69 L330.42,199.71 L331.1,199.72 L331.78,199.74 L332.46,199.75 L333.14,199.76 L333.82,199.77 L334.5,199.78 L335.18,199.8 L335.86,199.82 L336.53,199.83 L337.21,199.84 L337.89,199.86 L338.57,199.87 L339.25,199.88 L339.93,199.89 L340.61,199.9 L341.29,199.9 L341.97,199.9 L342.65,199.9 L343.33,199.9 L344,199.9 L344.68,199.9 L345.36,199.9 L346.04,199.9 L346.72,199.9 L347.4,199.9 L347.4,200.4 L272.7,200.4 Z" fill="#fff" stroke="none"/>
<path d="M272.7,180.45 L273.38,179.38 L274.06,178.87 L274.74,179.45 L275.42,180.14 L276.1,179.89 L276.77,178.62 L277.45,177.43 L278.13,177.19 L278.81,177.67 L279.49,178.81 L280.17,180.58 L280.85,182.42 L281.53,184.21 L282.21,186.07 L282.89,187.42 L283.57,188.19 L284.24,189.14 L284.92,190.45 L285.6,191.63 L286.28,192.38 L286.96,192.85 L287.64,193.46 L288.32,194.31 L289,195.29 L289.68,196.29 L290.36,197.16 L291.04,197.85 L291.71,198.36 L292.39,198.7 L293.07,198.9 L293.75,198.99 L294.43,198.99 L295.11,198.98 L295.79,199 L296.47,199.01 L297.15,198.98 L297.83,198.99 L298.51,199.04 L299.18,199.07 L299.86,199.07 L300.54,199.1 L301.22,199.14 L301.9,199.15 L302.58,199.12 L303.26,199.12 L303.94,199.15 L304.62,199.19 L305.3,199.22 L305.98,199.23 L306.65,199.23 L307.33,199.25 L308.01,199.29 L308.69,199.31 L309.37,199.33 L310.05,199.34 L310.73,199.33 L311.41,199.32 L312.09,199.33 L312.77,199.35 L313.45,199.38 L314.12,199.41 L314.8,199.42 L315.48,199.44 L316.16,199.45 L316.84,199.45 L317.52,199.45 L318.2,199.46 L318.88,199.48 L319.56,199.49 L320.24,199.5 L320.92,199.53 L321.59,199.54 L322.27,199.55 L322.95,199.57 L323.63,199.59 L324.31,199.6 L324.99,199.6 L325.67,199.62 L326.35,199.63 L327.03,199.64 L327.71,199.64 L328.39,199.66 L329.06,199.69 L329.74,199.71 L330.42,199.72 L331.1,199.72 L331.78,199.74 L332.46,199.76 L333.14,199.78 L333.82,199.79 L334.5,199.79 L335.18,199.81 L335.86,199.82 L336.53,199.83 L337.21,199.84 L337.89,199.86 L338.57,199.87 L339.25,199.89 L339.93,199.9 L340.61,199.9 L341.29,199.9 L341.97,199.9 L342.65,199.9 L343.33,199.9 L344,199.9 L344.68,199.9 L345.36,199.9 L346.04,199.9 L346.72,199.9 L347.4,199.9 L347.4,200.4 L272.7,200.4 Z" fill="#2e2e2e" stroke="#2e2e2e" stroke-width="0.5"/>
<path d="M272.7,198.66 L273.38,198.63 L274.06,198.58 L274.74,198.58 L275.42,198.65 L276.1,198.66 L276.77,198.64 L277.45,198.63 L278.13,198.63 L278.81,198.64 L279.49,198.65 L280.17,198.6 L280.85,198.43 L281.53,198.11 L282.21,197.65 L282.89,196.81 L283.57,195.5 L284.24,193.88 L284.92,191.8 L285.6,189.22 L286.28,186.31 L286.96,183.51 L287.64,181.44 L288.32,179.95 L289,178.93 L289.68,178.34 L290.36,178.19 L291.04,178.82 L291.71,179.56 L292.39,179.79 L293.07,180.37 L293.75,182.13 L294.43,184.11 L295.11,185.71 L295.79,187.62 L296.47,189.4 L297.15,190.68 L297.83,191.83 L298.51,192.96 L299.18,194.07 L299.86,195.09 L300.54,195.96 L301.22,196.62 L301.9,197.18 L302.58,197.7 L303.26,198.1 L303.94,198.39 L304.62,198.61 L305.3,198.77 L305.98,198.9 L306.65,199.02 L307.33,199.13 L308.01,199.19 L308.69,199.19 L309.37,199.19 L310.05,199.22 L310.73,199.24 L311.41,199.25 L312.09,199.27 L312.77,199.31 L313.45,199.34 L314.12,199.35 L314.8,199.34 L315.48,199.36 L316.16,199.38 L316.84,199.4 L317.52,199.43 L318.2,199.46 L318.88,199.47 L319.56,199.47 L320.24,199.48 L320.92,199.49 L321.59,199.51 L322.27,199.53 L322.95,199.55 L323.63,199.56 L324.31,199.58 L324.99,199.59 L325.67,199.61 L326.35,199.63 L327.03,199.64 L327.71,199.64 L328.39,199.66 L329.06,199.68 L329.74,199.69 L330.42,199.71 L331.1,199.72 L331.78,199.74 L332.46,199.75 L333.14,199.76 L333.82,199.77 L334.5,199.78 L335.18,199.8 L335.86,199.82 L336.53,199.83 L337.21,199.84 L337.89,199.86 L338.57,199.87 L339.25,199.88 L339.93,199.89 L340.61,199.9 L341.29,199.9 L341.97,199.9 L342.65,199.9 L343.33,199.9 L344,199.9 L344.68,199.9 L345.36,199.9 L346.04,199.9 L346.72,199.9 L347.4,199.9" fill="none" stroke="#8c8c8c" stroke-width="1.7" stroke-linejoin="round"/>
<path d="M272.7,198.66 L273.38,198.63 L274.06,198.58 L274.74,198.58 L275.42,198.65 L276.1,198.66 L276.77,198.64 L277.45,198.63 L278.13,198.63 L278.81,198.64 L279.49,198.65 L280.17,198.6 L280.85,198.43 L281.53,198.11 L282.21,197.65 L282.89,196.81 L283.57,195.5 L284.24,193.88 L284.92,191.8 L285.6,189.22 L286.28,186.31 L286.96,183.51 L287.64,181.44 L288.32,179.95 L289,178.93 L289.68,178.34 L290.36,178.19 L291.04,178.82 L291.71,179.56 L292.39,179.79 L293.07,180.37 L293.75,182.13 L294.43,184.11 L295.11,185.71 L295.79,187.62 L296.47,189.4 L297.15,190.68 L297.83,191.83 L298.51,192.96 L299.18,194.07 L299.86,195.09 L300.54,195.96 L301.22,196.62 L301.9,197.18 L302.58,197.7 L303.26,198.1 L303.94,198.39 L304.62,198.61 L305.3,198.77 L305.98,198.9 L306.65,199.02 L307.33,199.13 L308.01,199.19 L308.69,199.19 L309.37,199.19 L310.05,199.22 L310.73,199.24 L311.41,199.25 L312.09,199.27 L312.77,199.31 L313.45,199.34 L314.12,199.35 L314.8,199.34 L315.48,199.36 L316.16,199.38 L316.84,199.4 L317.52,199.43 L318.2,199.46 L318.88,199.47 L319.56,199.47 L320.24,199.48 L320.92,199.49 L321.59,199.51 L322.27,199.53 L322.95,199.55 L323.63,199.56 L324.31,199.58 L324.99,199.59 L325.67,199.61 L326.35,199.63 L327.03,199.64 L327.71,199.64 L328.39,199.66 L329.06,199.68 L329.74,199.69 L330.42,199.71 L331.1,199.72 L331.78,199.74 L332.46,199.75 L333.14,199.76 L333.82,199.77 L334.5,199.78 L335.18,199.8 L335.86,199.82 L336.53,199.83 L337.21,199.84 L337.89,199.86 L338.57,199.87 L339.25,199.88 L339.93,199.89 L340.61,199.9 L341.29,199.9 L341.97,199.9 L342.65,199.9 L343.33,199.9 L344,199.9 L344.68,199.9 L345.36,199.9 L346.04,199.9 L346.72,199.9 L347.4,199.9" fill="none" stroke="#fff" stroke-width="0.75" stroke-linejoin="round"/>
<path d="M272.7,199 L273.38,199.04 L274.06,199.03 L274.74,199.02 L275.42,199.03 L276.1,199.05 L276.77,199.05 L277.45,199.02 L278.13,198.98 L278.81,198.9 L279.49,198.66 L280.17,198.16 L280.85,197.35 L281.53,196.12 L282.21,194.17 L282.89,191.54 L283.57,188.26 L284.24,184.08 L284.92,180.24 L285.6,177.88 L286.28,176.2 L286.96,175.19 L287.64,175.51 L288.32,176.56 L289,177.45 L289.68,178.31 L290.36,180.3 L291.04,183.06 L291.71,185.26 L292.39,186.85 L293.07,188.53 L293.75,190.64 L294.43,192.69 L295.11,194.22 L295.79,195.32 L296.47,196.28 L297.15,197.12 L297.83,197.72 L298.51,198.14 L299.18,198.54 L299.86,198.88 L300.54,199.08 L301.22,199.19 L301.9,199.24 L302.58,199.27 L303.26,199.29 L303.94,199.31 L304.62,199.33 L305.3,199.34 L305.98,199.35 L306.65,199.35 L307.33,199.37 L308.01,199.38 L308.69,199.4 L309.37,199.41 L310.05,199.44 L310.73,199.47 L311.41,199.47 L312.09,199.47 L312.77,199.49 L313.45,199.51 L314.12,199.52 L314.8,199.53 L315.48,199.54 L316.16,199.56 L316.84,199.57 L317.52,199.59 L318.2,199.6 L318.88,199.61 L319.56,199.62 L320.24,199.62 L320.92,199.62 L321.59,199.63 L322.27,199.64 L322.95,199.65 L323.63,199.66 L324.31,199.67 L324.99,199.69 L325.67,199.71 L326.35,199.72 L327.03,199.73 L327.71,199.74 L328.39,199.74 L329.06,199.75 L329.74,199.75 L330.42,199.77 L331.1,199.78 L331.78,199.78 L332.46,199.79 L333.14,199.8 L333.82,199.82 L334.5,199.83 L335.18,199.83 L335.86,199.84 L336.53,199.85 L337.21,199.86 L337.89,199.87 L338.57,199.88 L339.25,199.89 L339.93,199.9 L340.61,199.9 L341.29,199.9 L341.97,199.9 L342.65,199.9 L343.33,199.9 L344,199.9 L344.68,199.9 L345.36,199.9 L346.04,199.9 L346.72,199.9 L347.4,199.9" fill="none" stroke="#111" stroke-width="1.0" stroke-linejoin="round"/>
<path d="M272.7,156.5 H347.4 V200.4" fill="none" stroke="#666" stroke-width="0.9"/>
<path d="M272.7,156.5 V200.4 H347.4" fill="none" stroke="#222" stroke-width="1.1"/>
<line x1="272.7" y1="200.4" x2="272.7" y2="202.6" stroke="#222" stroke-width="0.8"/>
<line x1="291.38" y1="200.4" x2="291.38" y2="202.6" stroke="#222" stroke-width="0.8"/>
<line x1="310.05" y1="200.4" x2="310.05" y2="202.6" stroke="#222" stroke-width="0.8"/>
<line x1="328.72" y1="200.4" x2="328.72" y2="202.6" stroke="#222" stroke-width="0.8"/>
<line x1="347.4" y1="200.4" x2="347.4" y2="202.6" stroke="#222" stroke-width="0.8"/>
<line x1="270.5" y1="166.5" x2="272.7" y2="166.5" stroke="#222" stroke-width="0.8"/>
<line x1="270.5" y1="178" x2="272.7" y2="178" stroke="#222" stroke-width="0.8"/>
<line x1="270.5" y1="189.5" x2="272.7" y2="189.5" stroke="#222" stroke-width="0.8"/>
<text x="273.5" y="210" font-size="8.3" font-weight="normal" text-anchor="middle" fill="#000">0</text>
<text x="309.85" y="210" font-size="8.3" font-weight="normal" text-anchor="middle" fill="#000">2</text>
<text x="345.6" y="210" font-size="8.3" font-weight="normal" text-anchor="middle" fill="#000">4</text>
<text x="279.9" y="164.5" font-size="7" font-weight="normal" text-anchor="start" fill="#000">WT</text>
<line x1="284.6" y1="165.4" x2="286.6" y2="174" stroke="#111" stroke-width="0.7"/>
<text x="297.4" y="173" font-size="7.7" font-weight="normal" text-anchor="start" fill="#000">CysLT<tspan font-size="6.4" dy="1.7">2</tspan><tspan dy="-1.7"><tspan font-size="5.6" dx="1.5">-/-</tspan></tspan></text>
<line x1="299" y1="176.2" x2="294.2" y2="185.2" stroke="#222" stroke-width="0.7" stroke-dasharray="1.6 1.2"/>
<path d="M356.4,198.74 L357.08,198.73 L357.76,198.76 L358.44,198.8 L359.12,198.81 L359.8,198.85 L360.48,198.89 L361.16,198.87 L361.84,198.92 L362.52,198.97 L363.2,198.96 L363.88,198.93 L364.56,198.89 L365.24,198.9 L365.92,198.94 L366.6,198.94 L367.28,198.91 L367.96,198.88 L368.64,198.87 L369.32,198.84 L370,198.76 L370.68,198.55 L371.36,198.15 L372.04,197.49 L372.72,196.34 L373.4,194.42 L374.08,191.83 L374.76,188.67 L375.44,184.07 L376.12,178.57 L376.8,174.77 L377.48,172.66 L378.16,171.76 L378.84,173.14 L379.52,175.75 L380.2,178.45 L380.88,181.3 L381.56,184.36 L382.24,187.11 L382.92,188.86 L383.6,190.22 L384.28,191.46 L384.96,192.3 L385.64,193.17 L386.32,194.12 L387,194.75 L387.68,195.23 L388.36,195.81 L389.04,196.45 L389.72,197 L390.4,197.38 L391.08,197.78 L391.76,198.21 L392.44,198.49 L393.12,198.7 L393.8,198.93 L394.48,199.09 L395.16,199.18 L395.84,199.29 L396.52,199.39 L397.2,199.46 L397.88,199.5 L398.56,199.53 L399.24,199.55 L399.92,199.59 L400.6,199.62 L401.28,199.63 L401.96,199.65 L402.64,199.67 L403.32,199.68 L404,199.69 L404.68,199.7 L405.36,199.72 L406.04,199.72 L406.72,199.73 L407.4,199.75 L408.08,199.77 L408.76,199.78 L409.44,199.8 L410.12,199.82 L410.8,199.84 L411.48,199.85 L412.16,199.86 L412.84,199.88 L413.52,199.89 L414.2,199.89 L414.88,199.91 L415.56,199.92 L416.24,199.94 L416.92,199.95 L417.6,199.97 L418.28,199.98 L418.96,200 L419.64,200.01 L420.32,200.03 L421,200.04 L421.68,200.05 L422.36,200.07 L423.04,200.08 L423.72,200.09 L424.4,200.1 L425.08,200.1 L425.76,200.1 L426.44,200.1 L427.12,200.1 L427.8,200.1 L428.48,200.1 L429.16,200.1 L429.84,200.1 L430.52,200.1 L431.2,200.1 L431.2,200.6 L356.4,200.6 Z" fill="#fff" stroke="none"/>
<path d="M356.4,197.55 L357.08,197.05 L357.76,196.5 L358.44,195.74 L359.12,194.12 L359.8,191.79 L360.48,189.05 L361.16,185.66 L361.84,182.11 L362.52,179.97 L363.2,178.04 L363.88,175.21 L364.56,174.53 L365.24,175.91 L365.92,176.26 L366.6,176.73 L367.28,179.71 L367.96,183.09 L368.64,184.91 L369.32,186.65 L370,189.22 L370.68,191.83 L371.36,193.97 L372.04,195.48 L372.72,196.54 L373.4,197.36 L374.08,197.85 L374.76,198.27 L375.44,198.51 L376.12,198.51 L376.8,198.59 L377.48,198.74 L378.16,198.77 L378.84,198.72 L379.52,198.76 L380.2,198.85 L380.88,198.83 L381.56,198.8 L382.24,198.86 L382.92,198.93 L383.6,198.93 L384.28,198.92 L384.96,198.97 L385.64,199.01 L386.32,198.98 L387,198.96 L387.68,198.99 L388.36,199.05 L389.04,199.09 L389.72,199.12 L390.4,199.19 L391.08,199.23 L391.76,199.19 L392.44,199.2 L393.12,199.29 L393.8,199.35 L394.48,199.36 L395.16,199.36 L395.84,199.38 L396.52,199.39 L397.2,199.36 L397.88,199.36 L398.56,199.38 L399.24,199.42 L399.92,199.46 L400.6,199.49 L401.28,199.49 L401.96,199.52 L402.64,199.54 L403.32,199.54 L404,199.54 L404.68,199.56 L405.36,199.57 L406.04,199.61 L406.72,199.65 L407.4,199.66 L408.08,199.68 L408.76,199.68 L409.44,199.71 L410.12,199.74 L410.8,199.75 L411.48,199.77 L412.16,199.8 L412.84,199.81 L413.52,199.83 L414.2,199.86 L414.88,199.88 L415.56,199.89 L416.24,199.9 L416.92,199.92 L417.6,199.94 L418.28,199.96 L418.96,199.97 L419.64,199.99 L420.32,200.01 L421,200.03 L421.68,200.05 L422.36,200.06 L423.04,200.08 L423.72,200.09 L424.4,200.1 L425.08,200.1 L425.76,200.1 L426.44,200.1 L427.12,200.1 L427.8,200.1 L428.48,200.1 L429.16,200.1 L429.84,200.1 L430.52,200.1 L431.2,200.1 L431.2,200.6 L356.4,200.6 Z" fill="#2e2e2e" stroke="#2e2e2e" stroke-width="0.5"/>
<path d="M356.4,198.74 L357.08,198.73 L357.76,198.76 L358.44,198.8 L359.12,198.81 L359.8,198.85 L360.48,198.89 L361.16,198.87 L361.84,198.92 L362.52,198.97 L363.2,198.96 L363.88,198.93 L364.56,198.89 L365.24,198.9 L365.92,198.94 L366.6,198.94 L367.28,198.91 L367.96,198.88 L368.64,198.87 L369.32,198.84 L370,198.76 L370.68,198.55 L371.36,198.15 L372.04,197.49 L372.72,196.34 L373.4,194.42 L374.08,191.83 L374.76,188.67 L375.44,184.07 L376.12,178.57 L376.8,174.77 L377.48,172.66 L378.16,171.76 L378.84,173.14 L379.52,175.75 L380.2,178.45 L380.88,181.3 L381.56,184.36 L382.24,187.11 L382.92,188.86 L383.6,190.22 L384.28,191.46 L384.96,192.3 L385.64,193.17 L386.32,194.12 L387,194.75 L387.68,195.23 L388.36,195.81 L389.04,196.45 L389.72,197 L390.4,197.38 L391.08,197.78 L391.76,198.21 L392.44,198.49 L393.12,198.7 L393.8,198.93 L394.48,199.09 L395.16,199.18 L395.84,199.29 L396.52,199.39 L397.2,199.46 L397.88,199.5 L398.56,199.53 L399.24,199.55 L399.92,199.59 L400.6,199.62 L401.28,199.63 L401.96,199.65 L402.64,199.67 L403.32,199.68 L404,199.69 L404.68,199.7 L405.36,199.72 L406.04,199.72 L406.72,199.73 L407.4,199.75 L408.08,199.77 L408.76,199.78 L409.44,199.8 L410.12,199.82 L410.8,199.84 L411.48,199.85 L412.16,199.86 L412.84,199.88 L413.52,199.89 L414.2,199.89 L414.88,199.91 L415.56,199.92 L416.24,199.94 L416.92,199.95 L417.6,199.97 L418.28,199.98 L418.96,200 L419.64,200.01 L420.32,200.03 L421,200.04 L421.68,200.05 L422.36,200.07 L423.04,200.08 L423.72,200.09 L424.4,200.1 L425.08,200.1 L425.76,200.1 L426.44,200.1 L427.12,200.1 L427.8,200.1 L428.48,200.1 L429.16,200.1 L429.84,200.1 L430.52,200.1 L431.2,200.1" fill="none" stroke="#858585" stroke-width="1.8" stroke-linejoin="round"/>
<path d="M356.4,198.74 L357.08,198.73 L357.76,198.76 L358.44,198.8 L359.12,198.81 L359.8,198.85 L360.48,198.89 L361.16,198.87 L361.84,198.92 L362.52,198.97 L363.2,198.96 L363.88,198.93 L364.56,198.89 L365.24,198.9 L365.92,198.94 L366.6,198.94 L367.28,198.91 L367.96,198.88 L368.64,198.87 L369.32,198.84 L370,198.76 L370.68,198.55 L371.36,198.15 L372.04,197.49 L372.72,196.34 L373.4,194.42 L374.08,191.83 L374.76,188.67 L375.44,184.07 L376.12,178.57 L376.8,174.77 L377.48,172.66 L378.16,171.76 L378.84,173.14 L379.52,175.75 L380.2,178.45 L380.88,181.3 L381.56,184.36 L382.24,187.11 L382.92,188.86 L383.6,190.22 L384.28,191.46 L384.96,192.3 L385.64,193.17 L386.32,194.12 L387,194.75 L387.68,195.23 L388.36,195.81 L389.04,196.45 L389.72,197 L390.4,197.38 L391.08,197.78 L391.76,198.21 L392.44,198.49 L393.12,198.7 L393.8,198.93 L394.48,199.09 L395.16,199.18 L395.84,199.29 L396.52,199.39 L397.2,199.46 L397.88,199.5 L398.56,199.53 L399.24,199.55 L399.92,199.59 L400.6,199.62 L401.28,199.63 L401.96,199.65 L402.64,199.67 L403.32,199.68 L404,199.69 L404.68,199.7 L405.36,199.72 L406.04,199.72 L406.72,199.73 L407.4,199.75 L408.08,199.77 L408.76,199.78 L409.44,199.8 L410.12,199.82 L410.8,199.84 L411.48,199.85 L412.16,199.86 L412.84,199.88 L413.52,199.89 L414.2,199.89 L414.88,199.91 L415.56,199.92 L416.24,199.94 L416.92,199.95 L417.6,199.97 L418.28,199.98 L418.96,200 L419.64,200.01 L420.32,200.03 L421,200.04 L421.68,200.05 L422.36,200.07 L423.04,200.08 L423.72,200.09 L424.4,200.1 L425.08,200.1 L425.76,200.1 L426.44,200.1 L427.12,200.1 L427.8,200.1 L428.48,200.1 L429.16,200.1 L429.84,200.1 L430.52,200.1 L431.2,200.1" fill="none" stroke="#fff" stroke-width="0.75" stroke-linejoin="round"/>
<path d="M356.4,156.6 H431.2 V200.6" fill="none" stroke="#666" stroke-width="0.9"/>
<path d="M356.4,156.6 V200.6 H431.2" fill="none" stroke="#222" stroke-width="1.1"/>
<line x1="356.4" y1="200.6" x2="356.4" y2="202.8" stroke="#222" stroke-width="0.8"/>
<line x1="375.1" y1="200.6" x2="375.1" y2="202.8" stroke="#222" stroke-width="0.8"/>
<line x1="393.8" y1="200.6" x2="393.8" y2="202.8" stroke="#222" stroke-width="0.8"/>
<line x1="412.5" y1="200.6" x2="412.5" y2="202.8" stroke="#222" stroke-width="0.8"/>
<line x1="431.2" y1="200.6" x2="431.2" y2="202.8" stroke="#222" stroke-width="0.8"/>
<line x1="354.2" y1="166.5" x2="356.4" y2="166.5" stroke="#222" stroke-width="0.8"/>
<line x1="354.2" y1="178" x2="356.4" y2="178" stroke="#222" stroke-width="0.8"/>
<line x1="354.2" y1="189.5" x2="356.4" y2="189.5" stroke="#222" stroke-width="0.8"/>
<text x="357" y="210" font-size="8.3" font-weight="normal" text-anchor="middle" fill="#000">0</text>
<text x="394.4" y="210" font-size="8.3" font-weight="normal" text-anchor="middle" fill="#000">2</text>
<text x="430.4" y="210" font-size="8.3" font-weight="normal" text-anchor="middle" fill="#000">4</text>
<text x="305.6" y="219.8" font-size="7.8" font-weight="normal" text-anchor="start" fill="#000">Log fluorescence intensity</text>
<rect x="462.5" y="122.6" width="53.9" height="78" fill="none" stroke="#333" stroke-width="1"/>
<line x1="462.5" y1="182" x2="465.5" y2="182" stroke="#222" stroke-width="0.8"/>
<text x="460.9" y="184.8" font-size="8" font-weight="normal" text-anchor="end" fill="#000">10</text>
<line x1="462.5" y1="162.5" x2="465.5" y2="162.5" stroke="#222" stroke-width="0.8"/>
<text x="460.9" y="165.3" font-size="8" font-weight="normal" text-anchor="end" fill="#000">20</text>
<line x1="462.5" y1="143" x2="465.5" y2="143" stroke="#222" stroke-width="0.8"/>
<text x="460.9" y="145.8" font-size="8" font-weight="normal" text-anchor="end" fill="#000">30</text>
<rect x="468.3" y="180.2" width="14.3" height="20.4" fill="#b4b4b4" stroke="#222" stroke-width="0.8"/>
<line x1="475.4" y1="180.2" x2="475.4" y2="174.2" stroke="#222" stroke-width="0.9"/>
<line x1="473.4" y1="174.2" x2="477.5" y2="174.2" stroke="#222" stroke-width="0.9"/>
<rect x="490.3" y="161.4" width="13.8" height="39.2" fill="#0a0a0a" stroke="#0a0a0a" stroke-width="0.6"/>
<line x1="497.2" y1="161.4" x2="497.2" y2="154.8" stroke="#222" stroke-width="0.9"/>
<line x1="495.1" y1="154.8" x2="499.3" y2="154.8" stroke="#222" stroke-width="0.9"/>
<text x="476.3" y="130.6" font-size="7.4" font-weight="normal" text-anchor="start" fill="#000"><tspan font-style="italic">P</tspan><tspan dx="-1.2"> = .01</tspan></text>
<text x="468.9" y="210.2" font-size="7.6" font-weight="normal" text-anchor="start" fill="#000">WT</text>
<text x="485.8" y="210.2" font-size="7.7" font-weight="normal" text-anchor="start" fill="#000">CysLT<tspan font-size="6.7" dy="1.8">2</tspan><tspan dy="-1.8">-/-</tspan></text>
<text transform="translate(448.9 166.2) rotate(-90)" font-size="8" font-weight="normal" text-anchor="middle" fill="#000">CysLT<tspan font-size="6" dy="1.5">1</tspan><tspan dy="-1.5">Staining <tspan font-size="7.3">(Net MFI)</tspan></tspan></text>
<text x="78" y="247.9" font-size="11.2" font-weight="bold" text-anchor="start" fill="#000">D</text>
<text x="97.6" y="247.2" font-size="10" font-weight="bold" text-anchor="start" fill="#000">Human</text>
<rect x="80.3" y="252.9" width="131.7" height="83.1" fill="none" stroke="#444" stroke-width="1"/>
<line x1="80.3" y1="315.06" x2="82.9" y2="315.06" stroke="#222" stroke-width="0.8"/>
<text x="79.1" y="317.76" font-size="7.4" font-weight="normal" text-anchor="end" fill="#000">400</text>
<line x1="80.3" y1="294.42" x2="82.9" y2="294.42" stroke="#222" stroke-width="0.8"/>
<text x="79.1" y="297.12" font-size="7.4" font-weight="normal" text-anchor="end" fill="#000">800</text>
<line x1="80.3" y1="273.78" x2="82.9" y2="273.78" stroke="#222" stroke-width="0.8"/>
<text x="79.1" y="276.48" font-size="7.4" font-weight="normal" text-anchor="end" fill="#000">1200</text>
<text transform="translate(53.3 298.2) rotate(-90)" font-size="8.35" font-weight="normal" text-anchor="middle" fill="#000">Thymidine incorp.</text>
<text transform="translate(62.2 298.8) rotate(-90)" font-size="8.6" font-weight="normal" text-anchor="middle" fill="#000">(cpm)</text>
<rect x="91.4" y="326.4" width="11.9" height="9.6" fill="#b4b4b4" stroke="#222" stroke-width="0.8"/>
<line x1="97.35" y1="326.4" x2="97.35" y2="324" stroke="#222" stroke-width="0.9"/>
<line x1="95.15" y1="324" x2="99.55" y2="324" stroke="#222" stroke-width="0.9"/>
<rect x="103.3" y="314.4" width="12" height="21.6" fill="#0a0a0a" stroke="#0a0a0a" stroke-width="0.6"/>
<line x1="109.3" y1="314.4" x2="109.3" y2="309" stroke="#222" stroke-width="0.9"/>
<line x1="106.9" y1="309" x2="111.7" y2="309" stroke="#222" stroke-width="0.9"/>
<rect x="134.4" y="328" width="11.8" height="8" fill="#b4b4b4" stroke="#222" stroke-width="0.8"/>
<line x1="140.3" y1="328" x2="140.3" y2="326.6" stroke="#222" stroke-width="0.9"/>
<line x1="138.1" y1="326.6" x2="142.5" y2="326.6" stroke="#222" stroke-width="0.9"/>
<rect x="146.2" y="329" width="11.8" height="7" fill="#0a0a0a" stroke="#0a0a0a" stroke-width="0.6"/>
<line x1="152.1" y1="329" x2="152.1" y2="327.8" stroke="#222" stroke-width="0.9"/>
<line x1="149.7" y1="327.8" x2="154.5" y2="327.8" stroke="#222" stroke-width="0.9"/>
<rect x="177" y="328.7" width="11.8" height="7.3" fill="#b4b4b4" stroke="#222" stroke-width="0.8"/>
<line x1="182.9" y1="328.7" x2="182.9" y2="327.2" stroke="#222" stroke-width="0.9"/>
<line x1="180.7" y1="327.2" x2="185.1" y2="327.2" stroke="#222" stroke-width="0.9"/>
<rect x="188.8" y="280.9" width="11.9" height="55.1" fill="#0a0a0a" stroke="#0a0a0a" stroke-width="0.6"/>
<line x1="194.75" y1="280.9" x2="194.75" y2="267.6" stroke="#222" stroke-width="0.9"/>
<line x1="192.35" y1="267.6" x2="197.15" y2="267.6" stroke="#222" stroke-width="0.9"/>
<path d="M110.0,271.6 V260.0 H136.0" fill="none" stroke="#444" stroke-width="0.9"/>
<path d="M170.0,260.0 H194.8 V262.6" fill="none" stroke="#444" stroke-width="0.9"/>
<text x="140" y="261.6" font-size="7.3" font-weight="normal" text-anchor="start" fill="#000"><tspan font-style="italic">P</tspan><tspan dx="-1.6"> = .04</tspan></text>
<text x="103.1" y="344.4" font-size="7.6" font-weight="normal" text-anchor="middle" fill="#000">Mock</text>
<text x="143.4" y="343.4" font-size="7.9" font-weight="normal" text-anchor="middle" fill="#000">CysLT<tspan font-size="6.6" dy="1.8">1</tspan><tspan dy="-1.8"><tspan font-size="6.7"> KD</tspan></tspan></text>
<text x="189.9" y="343.4" font-size="7.9" font-weight="normal" text-anchor="middle" fill="#000">CysLT<tspan font-size="6.6" dy="1.8">2</tspan><tspan dy="-1.8"><tspan font-size="6.7"> KD</tspan></tspan></text>
<rect x="217.3" y="254.8" width="10" height="6.4" fill="#b4b4b4" stroke="#222" stroke-width="0.8"/>
<rect x="217.3" y="266.1" width="10" height="6.4" fill="#0a0a0a" stroke="#0a0a0a" stroke-width="0.8"/>
<text x="230.8" y="261.2" font-size="7.2" font-weight="normal" text-anchor="start" fill="#000">SCF</text>
<text x="230.8" y="272.4" font-size="7.2" font-weight="normal" text-anchor="start" fill="#000">SCF + LTD<tspan font-size="5.6" dy="1.5">4</tspan></text>
<text x="318.2" y="247.5" font-size="11.2" font-weight="bold" text-anchor="start" fill="#000">E</text>
<text x="336.8" y="247.4" font-size="10" font-weight="bold" text-anchor="start" fill="#000">Mouse</text>
<rect x="320.2" y="252.9" width="131.5" height="83.1" fill="none" stroke="#444" stroke-width="1"/>
<line x1="320.2" y1="318.88" x2="323" y2="318.88" stroke="#222" stroke-width="0.8"/>
<text x="319.6" y="321.58" font-size="7.7" font-weight="normal" text-anchor="end" fill="#000">100</text>
<line x1="320.2" y1="301.96" x2="323" y2="301.96" stroke="#222" stroke-width="0.8"/>
<text x="319.6" y="304.66" font-size="7.7" font-weight="normal" text-anchor="end" fill="#000">200</text>
<line x1="320.2" y1="285.04" x2="323" y2="285.04" stroke="#222" stroke-width="0.8"/>
<text x="319.6" y="287.74" font-size="7.7" font-weight="normal" text-anchor="end" fill="#000">300</text>
<line x1="320.2" y1="268.12" x2="323" y2="268.12" stroke="#222" stroke-width="0.8"/>
<text x="319.6" y="270.82" font-size="7.7" font-weight="normal" text-anchor="end" fill="#000">400</text>
<text transform="translate(292.3 294.8) rotate(-90)" font-size="8.25" font-weight="normal" text-anchor="middle" fill="#000">Proliferation</text>
<text transform="translate(301.3 294.3) rotate(-90)" font-size="8.7" font-weight="normal" text-anchor="middle" fill="#000">(% of control)</text>
<rect x="334.5" y="302.2" width="12.1" height="33.8" fill="#b4b4b4" stroke="#222" stroke-width="0.8"/>
<line x1="340.55" y1="302.2" x2="340.55" y2="295.4" stroke="#222" stroke-width="0.9"/>
<line x1="338.35" y1="295.4" x2="342.75" y2="295.4" stroke="#222" stroke-width="0.9"/>
<rect x="346.6" y="316.1" width="12" height="19.9" fill="#0a0a0a" stroke="#0a0a0a" stroke-width="0.6"/>
<line x1="352.6" y1="316.1" x2="352.6" y2="312.2" stroke="#222" stroke-width="0.9"/>
<line x1="350.2" y1="312.2" x2="355" y2="312.2" stroke="#222" stroke-width="0.9"/>
<rect x="373.6" y="320.5" width="11.8" height="15.5" fill="#b4b4b4" stroke="#222" stroke-width="0.8"/>
<line x1="379.5" y1="320.5" x2="379.5" y2="319" stroke="#222" stroke-width="0.9"/>
<line x1="377.3" y1="319" x2="381.7" y2="319" stroke="#222" stroke-width="0.9"/>
<rect x="385.4" y="323.4" width="12" height="12.6" fill="#0a0a0a" stroke="#0a0a0a" stroke-width="0.6"/>
<line x1="391.4" y1="323.4" x2="391.4" y2="321.8" stroke="#222" stroke-width="0.9"/>
<line x1="389" y1="321.8" x2="393.8" y2="321.8" stroke="#222" stroke-width="0.9"/>
<rect x="412.6" y="275.9" width="12.3" height="60.1" fill="#b4b4b4" stroke="#222" stroke-width="0.8"/>
<line x1="418.75" y1="275.9" x2="418.75" y2="266.2" stroke="#222" stroke-width="0.9"/>
<line x1="416.55" y1="266.2" x2="420.95" y2="266.2" stroke="#222" stroke-width="0.9"/>
<rect x="424.9" y="323.7" width="12" height="12.3" fill="#0a0a0a" stroke="#0a0a0a" stroke-width="0.6"/>
<line x1="430.9" y1="323.7" x2="430.9" y2="322" stroke="#222" stroke-width="0.9"/>
<line x1="428.5" y1="322" x2="433.3" y2="322" stroke="#222" stroke-width="0.9"/>
<path d="M339.8,270.4 V259.7 H361.8" fill="none" stroke="#444" stroke-width="0.9"/>
<path d="M395.4,259.7 H418.8 V262.4" fill="none" stroke="#444" stroke-width="0.9"/>
<text x="366" y="261.5" font-size="7.3" font-weight="normal" text-anchor="start" fill="#000"><tspan font-style="italic">P</tspan><tspan dx="-1.6"> = .04</tspan></text>
<text x="347.3" y="344" font-size="7.3" font-weight="normal" text-anchor="middle" fill="#000">WT</text>
<text x="385.4" y="343.6" font-size="7.7" font-weight="normal" text-anchor="middle" fill="#000">CysLT<tspan font-size="6.2" dy="1.7">1</tspan><tspan dy="-1.7"><tspan font-size="6.6">-/-</tspan></tspan></text>
<text x="428.6" y="343.6" font-size="7.7" font-weight="normal" text-anchor="middle" fill="#000">CysLT<tspan font-size="6.2" dy="1.7">2</tspan><tspan dy="-1.7"><tspan font-size="6.6">-/-</tspan></tspan></text>
<rect x="457.5" y="255" width="9.6" height="6.4" fill="#b4b4b4" stroke="#222" stroke-width="0.8"/>
<rect x="457.5" y="266.2" width="9.6" height="6.4" fill="#0a0a0a" stroke="#0a0a0a" stroke-width="0.8"/>
<text x="469.5" y="261.2" font-size="7.2" font-weight="normal" text-anchor="start" fill="#000">None</text>
<text x="469.5" y="272.2" font-size="7.2" font-weight="normal" text-anchor="start" fill="#000">MK571</text>
</svg></body></html>
